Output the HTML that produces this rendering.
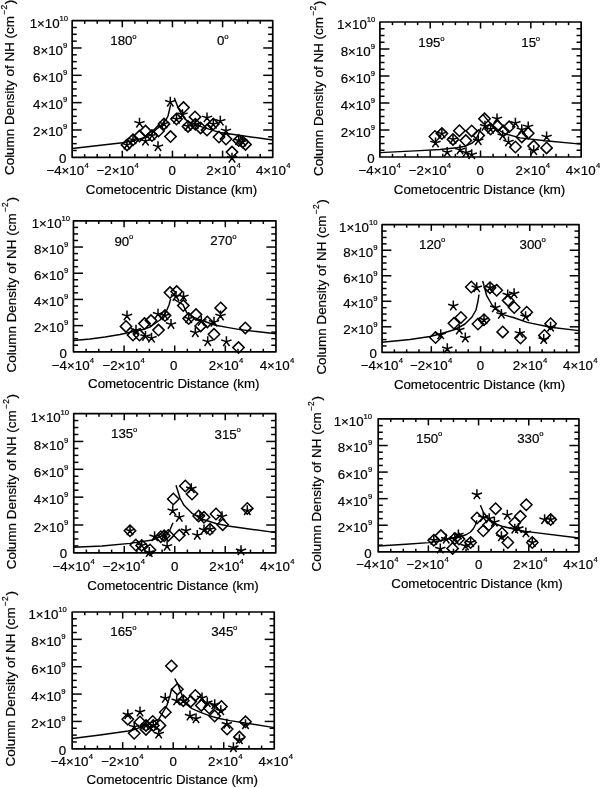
<!DOCTYPE html>
<html><head><meta charset="utf-8"><style>
html,body{margin:0;padding:0;background:#fff;width:600px;height:788px;overflow:hidden}
svg{display:block;filter:grayscale(1) blur(0.35px)}
text{font-family:"Liberation Sans",sans-serif;fill:#000;stroke:#000;stroke-width:0.2px}
</style></head><body>
<svg width="600" height="788" viewBox="0 0 600 788">
<rect width="600" height="788" fill="#fff"/>
<g stroke="#000" stroke-linecap="butt">
<rect x="72.15" y="20.65" width="200.60" height="136.65" fill="none" stroke-width="1.7" stroke-linejoin="round"/>
<line x1="84.69" y1="157.30" x2="84.69" y2="154.09" stroke-width="1.5"/>
<line x1="84.69" y1="20.65" x2="84.69" y2="23.86" stroke-width="1.5"/>
<line x1="97.23" y1="157.30" x2="97.23" y2="154.09" stroke-width="1.5"/>
<line x1="97.23" y1="20.65" x2="97.23" y2="23.86" stroke-width="1.5"/>
<line x1="109.76" y1="157.30" x2="109.76" y2="154.09" stroke-width="1.5"/>
<line x1="109.76" y1="20.65" x2="109.76" y2="23.86" stroke-width="1.5"/>
<line x1="122.30" y1="157.30" x2="122.30" y2="150.68" stroke-width="1.5"/>
<line x1="122.30" y1="20.65" x2="122.30" y2="27.27" stroke-width="1.5"/>
<line x1="134.84" y1="157.30" x2="134.84" y2="154.09" stroke-width="1.5"/>
<line x1="134.84" y1="20.65" x2="134.84" y2="23.86" stroke-width="1.5"/>
<line x1="147.38" y1="157.30" x2="147.38" y2="154.09" stroke-width="1.5"/>
<line x1="147.38" y1="20.65" x2="147.38" y2="23.86" stroke-width="1.5"/>
<line x1="159.91" y1="157.30" x2="159.91" y2="154.09" stroke-width="1.5"/>
<line x1="159.91" y1="20.65" x2="159.91" y2="23.86" stroke-width="1.5"/>
<line x1="172.45" y1="157.30" x2="172.45" y2="150.68" stroke-width="1.5"/>
<line x1="172.45" y1="20.65" x2="172.45" y2="27.27" stroke-width="1.5"/>
<line x1="184.99" y1="157.30" x2="184.99" y2="154.09" stroke-width="1.5"/>
<line x1="184.99" y1="20.65" x2="184.99" y2="23.86" stroke-width="1.5"/>
<line x1="197.53" y1="157.30" x2="197.53" y2="154.09" stroke-width="1.5"/>
<line x1="197.53" y1="20.65" x2="197.53" y2="23.86" stroke-width="1.5"/>
<line x1="210.06" y1="157.30" x2="210.06" y2="154.09" stroke-width="1.5"/>
<line x1="210.06" y1="20.65" x2="210.06" y2="23.86" stroke-width="1.5"/>
<line x1="222.60" y1="157.30" x2="222.60" y2="150.68" stroke-width="1.5"/>
<line x1="222.60" y1="20.65" x2="222.60" y2="27.27" stroke-width="1.5"/>
<line x1="235.14" y1="157.30" x2="235.14" y2="154.09" stroke-width="1.5"/>
<line x1="235.14" y1="20.65" x2="235.14" y2="23.86" stroke-width="1.5"/>
<line x1="247.68" y1="157.30" x2="247.68" y2="154.09" stroke-width="1.5"/>
<line x1="247.68" y1="20.65" x2="247.68" y2="23.86" stroke-width="1.5"/>
<line x1="260.21" y1="157.30" x2="260.21" y2="154.09" stroke-width="1.5"/>
<line x1="260.21" y1="20.65" x2="260.21" y2="23.86" stroke-width="1.5"/>
<line x1="72.15" y1="150.47" x2="76.75" y2="150.47" stroke-width="1.5"/>
<line x1="272.75" y1="150.47" x2="268.15" y2="150.47" stroke-width="1.5"/>
<line x1="72.15" y1="143.64" x2="76.75" y2="143.64" stroke-width="1.5"/>
<line x1="272.75" y1="143.64" x2="268.15" y2="143.64" stroke-width="1.5"/>
<line x1="72.15" y1="136.80" x2="76.75" y2="136.80" stroke-width="1.5"/>
<line x1="272.75" y1="136.80" x2="268.15" y2="136.80" stroke-width="1.5"/>
<line x1="72.15" y1="129.97" x2="81.65" y2="129.97" stroke-width="1.5"/>
<line x1="272.75" y1="129.97" x2="263.25" y2="129.97" stroke-width="1.5"/>
<line x1="72.15" y1="123.14" x2="76.75" y2="123.14" stroke-width="1.5"/>
<line x1="272.75" y1="123.14" x2="268.15" y2="123.14" stroke-width="1.5"/>
<line x1="72.15" y1="116.31" x2="76.75" y2="116.31" stroke-width="1.5"/>
<line x1="272.75" y1="116.31" x2="268.15" y2="116.31" stroke-width="1.5"/>
<line x1="72.15" y1="109.47" x2="76.75" y2="109.47" stroke-width="1.5"/>
<line x1="272.75" y1="109.47" x2="268.15" y2="109.47" stroke-width="1.5"/>
<line x1="72.15" y1="102.64" x2="81.65" y2="102.64" stroke-width="1.5"/>
<line x1="272.75" y1="102.64" x2="263.25" y2="102.64" stroke-width="1.5"/>
<line x1="72.15" y1="95.81" x2="76.75" y2="95.81" stroke-width="1.5"/>
<line x1="272.75" y1="95.81" x2="268.15" y2="95.81" stroke-width="1.5"/>
<line x1="72.15" y1="88.98" x2="76.75" y2="88.98" stroke-width="1.5"/>
<line x1="272.75" y1="88.98" x2="268.15" y2="88.98" stroke-width="1.5"/>
<line x1="72.15" y1="82.14" x2="76.75" y2="82.14" stroke-width="1.5"/>
<line x1="272.75" y1="82.14" x2="268.15" y2="82.14" stroke-width="1.5"/>
<line x1="72.15" y1="75.31" x2="81.65" y2="75.31" stroke-width="1.5"/>
<line x1="272.75" y1="75.31" x2="263.25" y2="75.31" stroke-width="1.5"/>
<line x1="72.15" y1="68.48" x2="76.75" y2="68.48" stroke-width="1.5"/>
<line x1="272.75" y1="68.48" x2="268.15" y2="68.48" stroke-width="1.5"/>
<line x1="72.15" y1="61.65" x2="76.75" y2="61.65" stroke-width="1.5"/>
<line x1="272.75" y1="61.65" x2="268.15" y2="61.65" stroke-width="1.5"/>
<line x1="72.15" y1="54.81" x2="76.75" y2="54.81" stroke-width="1.5"/>
<line x1="272.75" y1="54.81" x2="268.15" y2="54.81" stroke-width="1.5"/>
<line x1="72.15" y1="47.98" x2="81.65" y2="47.98" stroke-width="1.5"/>
<line x1="272.75" y1="47.98" x2="263.25" y2="47.98" stroke-width="1.5"/>
<line x1="72.15" y1="41.15" x2="76.75" y2="41.15" stroke-width="1.5"/>
<line x1="272.75" y1="41.15" x2="268.15" y2="41.15" stroke-width="1.5"/>
<line x1="72.15" y1="34.31" x2="76.75" y2="34.31" stroke-width="1.5"/>
<line x1="272.75" y1="34.31" x2="268.15" y2="34.31" stroke-width="1.5"/>
<line x1="72.15" y1="27.48" x2="76.75" y2="27.48" stroke-width="1.5"/>
<line x1="272.75" y1="27.48" x2="268.15" y2="27.48" stroke-width="1.5"/>
<text x="59.12" y="162.80" font-size="13.3">0</text>
<text x="33.01" y="136.42" font-size="13.3">2×10</text>
<text x="63.08" y="129.42" font-size="7.7">9</text>
<text x="33.01" y="109.19" font-size="13.3">4×10</text>
<text x="63.08" y="102.19" font-size="7.7">9</text>
<text x="33.01" y="81.96" font-size="13.3">6×10</text>
<text x="63.08" y="74.96" font-size="7.7">9</text>
<text x="33.01" y="54.73" font-size="13.3">8×10</text>
<text x="63.08" y="47.73" font-size="7.7">9</text>
<text x="29.63" y="27.50" font-size="13.3">1×10</text>
<text x="59.49" y="20.50" font-size="7.7">10</text>
<text x="46.43" y="175.20" font-size="13.3">−4×10</text>
<text x="84.46" y="168.20" font-size="7.7">4</text>
<text x="96.53" y="175.20" font-size="13.3">−2×10</text>
<text x="134.56" y="168.20" font-size="7.7">4</text>
<text x="168.45" y="175.20" font-size="13.3">0</text>
<text x="206.26" y="175.20" font-size="13.3">2×10</text>
<text x="236.52" y="168.20" font-size="7.7">4</text>
<text x="255.94" y="175.20" font-size="13.3">4×10</text>
<text x="286.20" y="168.20" font-size="7.7">4</text>
<text x="85.79" y="193.90" font-size="13.3">Cometocentric Distance (km)</text>
<g transform="translate(14.30,174.38) rotate(-90)">
<text x="-0.68" y="0" font-size="13.45">Column Density of NH (cm</text>
<text x="159.91" y="-7.2" font-size="8.4">−2</text>
<text x="170.19" y="0" font-size="13.45">)</text>
</g>
<text x="110.29" y="45.00" font-size="13.3">180</text>
<text x="132.23" y="38.70" font-size="7.7">o</text>
<text x="216.98" y="45.30" font-size="13.3">0</text>
<text x="224.13" y="39.00" font-size="7.7">o</text>
<polyline points="72.15,148.50 122.50,142.70 135.00,140.20 147.00,137.00 151.00,134.50 155.00,130.50 161.00,125.50 166.00,119.80 168.00,116.00 170.70,104.50" fill="none" stroke-width="1.45" stroke-linejoin="round"/>
<polyline points="174.30,97.80 178.00,107.40 181.70,114.60 184.50,118.60 188.30,121.60 202.50,127.10 213.75,130.60 220.00,132.50 272.75,140.00" fill="none" stroke-width="1.45" stroke-linejoin="round"/>
<path d="M139.50,130.40L145.20,136.10L139.50,141.80L133.80,136.10Z" stroke-width="1.5" fill="none" stroke-linejoin="miter"/>
<path d="M145.50,125.40L151.20,131.10L145.50,136.80L139.80,131.10Z" stroke-width="1.5" fill="none" stroke-linejoin="miter"/>
<path d="M158.50,125.40L164.20,131.10L158.50,136.80L152.80,131.10Z" stroke-width="1.5" fill="none" stroke-linejoin="miter"/>
<path d="M170.50,130.90L176.20,136.60L170.50,142.30L164.80,136.60Z" stroke-width="1.5" fill="none" stroke-linejoin="miter"/>
<path d="M183.50,101.90L189.20,107.60L183.50,113.30L177.80,107.60Z" stroke-width="1.5" fill="none" stroke-linejoin="miter"/>
<path d="M195.00,111.20L200.70,116.90L195.00,122.60L189.30,116.90Z" stroke-width="1.5" fill="none" stroke-linejoin="miter"/>
<path d="M200.60,122.20L206.30,127.90L200.60,133.60L194.90,127.90Z" stroke-width="1.5" fill="none" stroke-linejoin="miter"/>
<path d="M207.00,124.40L212.70,130.10L207.00,135.80L201.30,130.10Z" stroke-width="1.5" fill="none" stroke-linejoin="miter"/>
<path d="M219.00,131.40L224.70,137.10L219.00,142.80L213.30,137.10Z" stroke-width="1.5" fill="none" stroke-linejoin="miter"/>
<path d="M226.00,133.40L231.70,139.10L226.00,144.80L220.30,139.10Z" stroke-width="1.5" fill="none" stroke-linejoin="miter"/>
<path d="M232.00,146.40L237.70,152.10L232.00,157.80L226.30,152.10Z" stroke-width="1.5" fill="none" stroke-linejoin="miter"/>
<path d="M245.50,138.70L251.20,144.40L245.50,150.10L239.80,144.40Z" stroke-width="1.5" fill="none" stroke-linejoin="miter"/>
<path d="M139.50,123.10L139.50,117.70M139.50,123.10L134.36,121.43M139.50,123.10L136.33,127.47M139.50,123.10L142.67,127.47M139.50,123.10L144.64,121.43" stroke-width="1.5" fill="none"/>
<path d="M145.50,141.10L145.50,135.70M145.50,141.10L140.36,139.43M145.50,141.10L142.33,145.47M145.50,141.10L148.67,145.47M145.50,141.10L150.64,139.43" stroke-width="1.5" fill="none"/>
<path d="M158.00,146.60L158.00,141.20M158.00,146.60L152.86,144.93M158.00,146.60L154.83,150.97M158.00,146.60L161.17,150.97M158.00,146.60L163.14,144.93" stroke-width="1.5" fill="none"/>
<path d="M170.30,102.10L170.30,96.70M170.30,102.10L165.16,100.43M170.30,102.10L167.13,106.47M170.30,102.10L173.47,106.47M170.30,102.10L175.44,100.43" stroke-width="1.5" fill="none"/>
<path d="M182.50,114.60L182.50,109.20M182.50,114.60L177.36,112.93M182.50,114.60L179.33,118.97M182.50,114.60L185.67,118.97M182.50,114.60L187.64,112.93" stroke-width="1.5" fill="none"/>
<path d="M207.00,117.80L207.00,112.40M207.00,117.80L201.86,116.13M207.00,117.80L203.83,122.17M207.00,117.80L210.17,122.17M207.00,117.80L212.14,116.13" stroke-width="1.5" fill="none"/>
<path d="M220.30,121.10L220.30,115.70M220.30,121.10L215.16,119.43M220.30,121.10L217.13,125.47M220.30,121.10L223.47,125.47M220.30,121.10L225.44,119.43" stroke-width="1.5" fill="none"/>
<path d="M226.00,130.80L226.00,125.40M226.00,130.80L220.86,129.13M226.00,130.80L222.83,135.17M226.00,130.80L229.17,135.17M226.00,130.80L231.14,129.13" stroke-width="1.5" fill="none"/>
<path d="M232.00,158.10L232.00,152.70M232.00,158.10L226.86,156.43M232.00,158.10L228.83,162.47M232.00,158.10L235.17,162.47M232.00,158.10L237.14,156.43" stroke-width="1.5" fill="none"/>
<path d="M127.00,139.20L132.70,144.90L127.00,150.60L121.30,144.90Z" stroke-width="1.5" fill="none" stroke-linejoin="miter"/>
<path d="M127.00,144.90L127.00,139.50M127.00,144.90L121.86,143.23M127.00,144.90L123.83,149.27M127.00,144.90L130.17,149.27M127.00,144.90L132.14,143.23" stroke-width="1.5" fill="none"/>
<path d="M133.00,134.10L138.70,139.80L133.00,145.50L127.30,139.80Z" stroke-width="1.5" fill="none" stroke-linejoin="miter"/>
<path d="M133.00,139.80L133.00,134.40M133.00,139.80L127.86,138.13M133.00,139.80L129.83,144.17M133.00,139.80L136.17,144.17M133.00,139.80L138.14,138.13" stroke-width="1.5" fill="none"/>
<path d="M152.00,129.90L157.70,135.60L152.00,141.30L146.30,135.60Z" stroke-width="1.5" fill="none" stroke-linejoin="miter"/>
<path d="M152.00,135.60L152.00,130.20M152.00,135.60L146.86,133.93M152.00,135.60L148.83,139.97M152.00,135.60L155.17,139.97M152.00,135.60L157.14,133.93" stroke-width="1.5" fill="none"/>
<path d="M164.00,118.20L169.70,123.90L164.00,129.60L158.30,123.90Z" stroke-width="1.5" fill="none" stroke-linejoin="miter"/>
<path d="M164.00,123.90L164.00,118.50M164.00,123.90L158.86,122.23M164.00,123.90L160.83,128.27M164.00,123.90L167.17,128.27M164.00,123.90L169.14,122.23" stroke-width="1.5" fill="none"/>
<path d="M176.50,113.40L182.20,119.10L176.50,124.80L170.80,119.10Z" stroke-width="1.5" fill="none" stroke-linejoin="miter"/>
<path d="M176.50,119.10L176.50,113.70M176.50,119.10L171.36,117.43M176.50,119.10L173.33,123.47M176.50,119.10L179.67,123.47M176.50,119.10L181.64,117.43" stroke-width="1.5" fill="none"/>
<path d="M188.00,120.70L193.70,126.40L188.00,132.10L182.30,126.40Z" stroke-width="1.5" fill="none" stroke-linejoin="miter"/>
<path d="M188.00,126.40L188.00,121.00M188.00,126.40L182.86,124.73M188.00,126.40L184.83,130.77M188.00,126.40L191.17,130.77M188.00,126.40L193.14,124.73" stroke-width="1.5" fill="none"/>
<path d="M195.30,118.60L201.00,124.30L195.30,130.00L189.60,124.30Z" stroke-width="1.5" fill="none" stroke-linejoin="miter"/>
<path d="M195.30,124.30L195.30,118.90M195.30,124.30L190.16,122.63M195.30,124.30L192.13,128.67M195.30,124.30L198.47,128.67M195.30,124.30L200.44,122.63" stroke-width="1.5" fill="none"/>
<path d="M213.30,118.40L219.00,124.10L213.30,129.80L207.60,124.10Z" stroke-width="1.5" fill="none" stroke-linejoin="miter"/>
<path d="M213.30,124.10L213.30,118.70M213.30,124.10L208.16,122.43M213.30,124.10L210.13,128.47M213.30,124.10L216.47,128.47M213.30,124.10L218.44,122.43" stroke-width="1.5" fill="none"/>
<path d="M238.70,134.90L244.40,140.60L238.70,146.30L233.00,140.60Z" stroke-width="1.5" fill="none" stroke-linejoin="miter"/>
<path d="M238.70,140.60L238.70,135.20M238.70,140.60L233.56,138.93M238.70,140.60L235.53,144.97M238.70,140.60L241.87,144.97M238.70,140.60L243.84,138.93" stroke-width="1.5" fill="none"/>
<path d="M242.70,136.20L248.40,141.90L242.70,147.60L237.00,141.90Z" stroke-width="1.5" fill="none" stroke-linejoin="miter"/>
<path d="M242.70,141.90L242.70,136.50M242.70,141.90L237.56,140.23M242.70,141.90L239.53,146.27M242.70,141.90L245.87,146.27M242.70,141.90L247.84,140.23" stroke-width="1.5" fill="none"/>
<rect x="379.90" y="22.00" width="201.25" height="135.00" fill="none" stroke-width="1.7" stroke-linejoin="round"/>
<line x1="392.48" y1="157.00" x2="392.48" y2="153.83" stroke-width="1.5"/>
<line x1="392.48" y1="22.00" x2="392.48" y2="25.17" stroke-width="1.5"/>
<line x1="405.06" y1="157.00" x2="405.06" y2="153.83" stroke-width="1.5"/>
<line x1="405.06" y1="22.00" x2="405.06" y2="25.17" stroke-width="1.5"/>
<line x1="417.63" y1="157.00" x2="417.63" y2="153.83" stroke-width="1.5"/>
<line x1="417.63" y1="22.00" x2="417.63" y2="25.17" stroke-width="1.5"/>
<line x1="430.21" y1="157.00" x2="430.21" y2="150.46" stroke-width="1.5"/>
<line x1="430.21" y1="22.00" x2="430.21" y2="28.54" stroke-width="1.5"/>
<line x1="442.79" y1="157.00" x2="442.79" y2="153.83" stroke-width="1.5"/>
<line x1="442.79" y1="22.00" x2="442.79" y2="25.17" stroke-width="1.5"/>
<line x1="455.37" y1="157.00" x2="455.37" y2="153.83" stroke-width="1.5"/>
<line x1="455.37" y1="22.00" x2="455.37" y2="25.17" stroke-width="1.5"/>
<line x1="467.95" y1="157.00" x2="467.95" y2="153.83" stroke-width="1.5"/>
<line x1="467.95" y1="22.00" x2="467.95" y2="25.17" stroke-width="1.5"/>
<line x1="480.52" y1="157.00" x2="480.52" y2="150.46" stroke-width="1.5"/>
<line x1="480.52" y1="22.00" x2="480.52" y2="28.54" stroke-width="1.5"/>
<line x1="493.10" y1="157.00" x2="493.10" y2="153.83" stroke-width="1.5"/>
<line x1="493.10" y1="22.00" x2="493.10" y2="25.17" stroke-width="1.5"/>
<line x1="505.68" y1="157.00" x2="505.68" y2="153.83" stroke-width="1.5"/>
<line x1="505.68" y1="22.00" x2="505.68" y2="25.17" stroke-width="1.5"/>
<line x1="518.26" y1="157.00" x2="518.26" y2="153.83" stroke-width="1.5"/>
<line x1="518.26" y1="22.00" x2="518.26" y2="25.17" stroke-width="1.5"/>
<line x1="530.84" y1="157.00" x2="530.84" y2="150.46" stroke-width="1.5"/>
<line x1="530.84" y1="22.00" x2="530.84" y2="28.54" stroke-width="1.5"/>
<line x1="543.42" y1="157.00" x2="543.42" y2="153.83" stroke-width="1.5"/>
<line x1="543.42" y1="22.00" x2="543.42" y2="25.17" stroke-width="1.5"/>
<line x1="555.99" y1="157.00" x2="555.99" y2="153.83" stroke-width="1.5"/>
<line x1="555.99" y1="22.00" x2="555.99" y2="25.17" stroke-width="1.5"/>
<line x1="568.57" y1="157.00" x2="568.57" y2="153.83" stroke-width="1.5"/>
<line x1="568.57" y1="22.00" x2="568.57" y2="25.17" stroke-width="1.5"/>
<line x1="379.90" y1="150.25" x2="384.51" y2="150.25" stroke-width="1.5"/>
<line x1="581.15" y1="150.25" x2="576.54" y2="150.25" stroke-width="1.5"/>
<line x1="379.90" y1="143.50" x2="384.51" y2="143.50" stroke-width="1.5"/>
<line x1="581.15" y1="143.50" x2="576.54" y2="143.50" stroke-width="1.5"/>
<line x1="379.90" y1="136.75" x2="384.51" y2="136.75" stroke-width="1.5"/>
<line x1="581.15" y1="136.75" x2="576.54" y2="136.75" stroke-width="1.5"/>
<line x1="379.90" y1="130.00" x2="389.43" y2="130.00" stroke-width="1.5"/>
<line x1="581.15" y1="130.00" x2="571.62" y2="130.00" stroke-width="1.5"/>
<line x1="379.90" y1="123.25" x2="384.51" y2="123.25" stroke-width="1.5"/>
<line x1="581.15" y1="123.25" x2="576.54" y2="123.25" stroke-width="1.5"/>
<line x1="379.90" y1="116.50" x2="384.51" y2="116.50" stroke-width="1.5"/>
<line x1="581.15" y1="116.50" x2="576.54" y2="116.50" stroke-width="1.5"/>
<line x1="379.90" y1="109.75" x2="384.51" y2="109.75" stroke-width="1.5"/>
<line x1="581.15" y1="109.75" x2="576.54" y2="109.75" stroke-width="1.5"/>
<line x1="379.90" y1="103.00" x2="389.43" y2="103.00" stroke-width="1.5"/>
<line x1="581.15" y1="103.00" x2="571.62" y2="103.00" stroke-width="1.5"/>
<line x1="379.90" y1="96.25" x2="384.51" y2="96.25" stroke-width="1.5"/>
<line x1="581.15" y1="96.25" x2="576.54" y2="96.25" stroke-width="1.5"/>
<line x1="379.90" y1="89.50" x2="384.51" y2="89.50" stroke-width="1.5"/>
<line x1="581.15" y1="89.50" x2="576.54" y2="89.50" stroke-width="1.5"/>
<line x1="379.90" y1="82.75" x2="384.51" y2="82.75" stroke-width="1.5"/>
<line x1="581.15" y1="82.75" x2="576.54" y2="82.75" stroke-width="1.5"/>
<line x1="379.90" y1="76.00" x2="389.43" y2="76.00" stroke-width="1.5"/>
<line x1="581.15" y1="76.00" x2="571.62" y2="76.00" stroke-width="1.5"/>
<line x1="379.90" y1="69.25" x2="384.51" y2="69.25" stroke-width="1.5"/>
<line x1="581.15" y1="69.25" x2="576.54" y2="69.25" stroke-width="1.5"/>
<line x1="379.90" y1="62.50" x2="384.51" y2="62.50" stroke-width="1.5"/>
<line x1="581.15" y1="62.50" x2="576.54" y2="62.50" stroke-width="1.5"/>
<line x1="379.90" y1="55.75" x2="384.51" y2="55.75" stroke-width="1.5"/>
<line x1="581.15" y1="55.75" x2="576.54" y2="55.75" stroke-width="1.5"/>
<line x1="379.90" y1="49.00" x2="389.43" y2="49.00" stroke-width="1.5"/>
<line x1="581.15" y1="49.00" x2="571.62" y2="49.00" stroke-width="1.5"/>
<line x1="379.90" y1="42.25" x2="384.51" y2="42.25" stroke-width="1.5"/>
<line x1="581.15" y1="42.25" x2="576.54" y2="42.25" stroke-width="1.5"/>
<line x1="379.90" y1="35.50" x2="384.51" y2="35.50" stroke-width="1.5"/>
<line x1="581.15" y1="35.50" x2="576.54" y2="35.50" stroke-width="1.5"/>
<line x1="379.90" y1="28.75" x2="384.51" y2="28.75" stroke-width="1.5"/>
<line x1="581.15" y1="28.75" x2="576.54" y2="28.75" stroke-width="1.5"/>
<text x="367.32" y="163.00" font-size="13.3">0</text>
<text x="340.71" y="136.85" font-size="13.3">2×10</text>
<text x="370.78" y="129.85" font-size="7.7">9</text>
<text x="340.71" y="109.85" font-size="13.3">4×10</text>
<text x="370.78" y="102.85" font-size="7.7">9</text>
<text x="340.71" y="82.85" font-size="13.3">6×10</text>
<text x="370.78" y="75.85" font-size="7.7">9</text>
<text x="340.71" y="55.85" font-size="13.3">8×10</text>
<text x="370.78" y="48.85" font-size="7.7">9</text>
<text x="336.88" y="28.85" font-size="13.3">1×10</text>
<text x="366.74" y="21.85" font-size="7.7">10</text>
<text x="358.53" y="175.40" font-size="13.3">−4×10</text>
<text x="396.56" y="168.40" font-size="7.7">4</text>
<text x="408.84" y="175.40" font-size="13.3">−2×10</text>
<text x="446.87" y="168.40" font-size="7.7">4</text>
<text x="476.48" y="175.40" font-size="13.3">0</text>
<text x="515.59" y="175.40" font-size="13.3">2×10</text>
<text x="545.86" y="168.40" font-size="7.7">4</text>
<text x="565.69" y="175.40" font-size="13.3">4×10</text>
<text x="595.95" y="168.40" font-size="7.7">4</text>
<text x="393.87" y="193.60" font-size="13.3">Cometocentric Distance (km)</text>
<g transform="translate(323.25,175.40) rotate(-90)">
<text x="-0.68" y="0" font-size="13.45">Column Density of NH (cm</text>
<text x="159.91" y="-7.2" font-size="8.4">−2</text>
<text x="170.19" y="0" font-size="13.45">)</text>
</g>
<text x="418.24" y="47.00" font-size="13.3">195</text>
<text x="440.15" y="40.70" font-size="7.7">o</text>
<text x="521.24" y="47.00" font-size="13.3">15</text>
<text x="535.75" y="40.70" font-size="7.7">o</text>
<polyline points="379.90,152.60 420.00,150.60 440.00,149.50 456.70,147.80 465.00,146.20 471.70,143.40 475.80,139.70 478.50,134.00 481.00,127.60" fill="none" stroke-width="1.45" stroke-linejoin="round"/>
<polyline points="483.00,114.60 490.00,123.00 497.00,129.00 505.00,133.80 520.00,137.90 545.00,140.80 581.15,144.10" fill="none" stroke-width="1.45" stroke-linejoin="round"/>
<path d="M434.90,130.80L440.60,136.50L434.90,142.20L429.20,136.50Z" stroke-width="1.5" fill="none" stroke-linejoin="miter"/>
<path d="M459.40,125.00L465.10,130.70L459.40,136.40L453.70,130.70Z" stroke-width="1.5" fill="none" stroke-linejoin="miter"/>
<path d="M471.70,125.20L477.40,130.90L471.70,136.60L466.00,130.90Z" stroke-width="1.5" fill="none" stroke-linejoin="miter"/>
<path d="M465.80,134.90L471.50,140.60L465.80,146.30L460.10,140.60Z" stroke-width="1.5" fill="none" stroke-linejoin="miter"/>
<path d="M478.70,129.90L484.40,135.60L478.70,141.30L473.00,135.60Z" stroke-width="1.5" fill="none" stroke-linejoin="miter"/>
<path d="M484.50,113.10L490.20,118.80L484.50,124.50L478.80,118.80Z" stroke-width="1.5" fill="none" stroke-linejoin="miter"/>
<path d="M497.50,120.40L503.20,126.10L497.50,131.80L491.80,126.10Z" stroke-width="1.5" fill="none" stroke-linejoin="miter"/>
<path d="M503.30,125.40L509.00,131.10L503.30,136.80L497.60,131.10Z" stroke-width="1.5" fill="none" stroke-linejoin="miter"/>
<path d="M509.10,121.10L514.80,126.80L509.10,132.50L503.40,126.80Z" stroke-width="1.5" fill="none" stroke-linejoin="miter"/>
<path d="M515.40,141.30L521.10,147.00L515.40,152.70L509.70,147.00Z" stroke-width="1.5" fill="none" stroke-linejoin="miter"/>
<path d="M521.80,131.20L527.50,136.90L521.80,142.60L516.10,136.90Z" stroke-width="1.5" fill="none" stroke-linejoin="miter"/>
<path d="M528.20,127.50L533.90,133.20L528.20,138.90L522.50,133.20Z" stroke-width="1.5" fill="none" stroke-linejoin="miter"/>
<path d="M533.70,140.40L539.40,146.10L533.70,151.80L528.00,146.10Z" stroke-width="1.5" fill="none" stroke-linejoin="miter"/>
<path d="M546.60,142.20L552.30,147.90L546.60,153.60L540.90,147.90Z" stroke-width="1.5" fill="none" stroke-linejoin="miter"/>
<path d="M435.50,142.90L435.50,137.50M435.50,142.90L430.36,141.23M435.50,142.90L432.33,147.27M435.50,142.90L438.67,147.27M435.50,142.90L440.64,141.23" stroke-width="1.5" fill="none"/>
<path d="M447.20,152.30L447.20,146.90M447.20,152.30L442.06,150.63M447.20,152.30L444.03,156.67M447.20,152.30L450.37,156.67M447.20,152.30L452.34,150.63" stroke-width="1.5" fill="none"/>
<path d="M460.00,149.90L460.00,144.50M460.00,149.90L454.86,148.23M460.00,149.90L456.83,154.27M460.00,149.90L463.17,154.27M460.00,149.90L465.14,148.23" stroke-width="1.5" fill="none"/>
<path d="M466.00,152.60L466.00,147.20M466.00,152.60L460.86,150.93M466.00,152.60L462.83,156.97M466.00,152.60L469.17,156.97M466.00,152.60L471.14,150.93" stroke-width="1.5" fill="none"/>
<path d="M471.70,154.60L471.70,149.20M471.70,154.60L466.56,152.93M471.70,154.60L468.53,158.97M471.70,154.60L474.87,158.97M471.70,154.60L476.84,152.93" stroke-width="1.5" fill="none"/>
<path d="M478.20,140.60L478.20,135.20M478.20,140.60L473.06,138.93M478.20,140.60L475.03,144.97M478.20,140.60L481.37,144.97M478.20,140.60L483.34,138.93" stroke-width="1.5" fill="none"/>
<path d="M485.00,126.20L485.00,120.80M485.00,126.20L479.86,124.53M485.00,126.20L481.83,130.57M485.00,126.20L488.17,130.57M485.00,126.20L490.14,124.53" stroke-width="1.5" fill="none"/>
<path d="M497.00,118.80L497.00,113.40M497.00,118.80L491.86,117.13M497.00,118.80L493.83,123.17M497.00,118.80L500.17,123.17M497.00,118.80L502.14,117.13" stroke-width="1.5" fill="none"/>
<path d="M502.70,135.60L502.70,130.20M502.70,135.60L497.56,133.93M502.70,135.60L499.53,139.97M502.70,135.60L505.87,139.97M502.70,135.60L507.84,133.93" stroke-width="1.5" fill="none"/>
<path d="M508.50,141.90L508.50,136.50M508.50,141.90L503.36,140.23M508.50,141.90L505.33,146.27M508.50,141.90L511.67,146.27M508.50,141.90L513.64,140.23" stroke-width="1.5" fill="none"/>
<path d="M515.40,123.10L515.40,117.70M515.40,123.10L510.26,121.43M515.40,123.10L512.23,127.47M515.40,123.10L518.57,127.47M515.40,123.10L520.54,121.43" stroke-width="1.5" fill="none"/>
<path d="M521.80,129.60L521.80,124.20M521.80,129.60L516.66,127.93M521.80,129.60L518.63,133.97M521.80,129.60L524.97,133.97M521.80,129.60L526.94,127.93" stroke-width="1.5" fill="none"/>
<path d="M528.20,126.80L528.20,121.40M528.20,126.80L523.06,125.13M528.20,126.80L525.03,131.17M528.20,126.80L531.37,131.17M528.20,126.80L533.34,125.13" stroke-width="1.5" fill="none"/>
<path d="M533.70,150.60L533.70,145.20M533.70,150.60L528.56,148.93M533.70,150.60L530.53,154.97M533.70,150.60L536.87,154.97M533.70,150.60L538.84,148.93" stroke-width="1.5" fill="none"/>
<path d="M546.60,136.90L546.60,131.50M546.60,136.90L541.46,135.23M546.60,136.90L543.43,141.27M546.60,136.90L549.77,141.27M546.60,136.90L551.74,135.23" stroke-width="1.5" fill="none"/>
<path d="M441.90,127.90L447.60,133.60L441.90,139.30L436.20,133.60Z" stroke-width="1.5" fill="none" stroke-linejoin="miter"/>
<path d="M441.90,133.60L441.90,128.20M441.90,133.60L436.76,131.93M441.90,133.60L438.73,137.97M441.90,133.60L445.07,137.97M441.90,133.60L447.04,131.93" stroke-width="1.5" fill="none"/>
<path d="M453.00,133.70L458.70,139.40L453.00,145.10L447.30,139.40Z" stroke-width="1.5" fill="none" stroke-linejoin="miter"/>
<path d="M453.00,139.40L453.00,134.00M453.00,139.40L447.86,137.73M453.00,139.40L449.83,143.77M453.00,139.40L456.17,143.77M453.00,139.40L458.14,137.73" stroke-width="1.5" fill="none"/>
<path d="M490.60,123.40L496.30,129.10L490.60,134.80L484.90,129.10Z" stroke-width="1.5" fill="none" stroke-linejoin="miter"/>
<path d="M490.60,129.10L490.60,123.70M490.60,129.10L485.46,127.43M490.60,129.10L487.43,133.47M490.60,129.10L493.77,133.47M490.60,129.10L495.74,127.43" stroke-width="1.5" fill="none"/>
<rect x="73.45" y="220.85" width="202.50" height="130.95" fill="none" stroke-width="1.7" stroke-linejoin="round"/>
<line x1="86.11" y1="351.80" x2="86.11" y2="348.72" stroke-width="1.5"/>
<line x1="86.11" y1="220.85" x2="86.11" y2="223.93" stroke-width="1.5"/>
<line x1="98.76" y1="351.80" x2="98.76" y2="348.72" stroke-width="1.5"/>
<line x1="98.76" y1="220.85" x2="98.76" y2="223.93" stroke-width="1.5"/>
<line x1="111.42" y1="351.80" x2="111.42" y2="348.72" stroke-width="1.5"/>
<line x1="111.42" y1="220.85" x2="111.42" y2="223.93" stroke-width="1.5"/>
<line x1="124.08" y1="351.80" x2="124.08" y2="345.45" stroke-width="1.5"/>
<line x1="124.08" y1="220.85" x2="124.08" y2="227.20" stroke-width="1.5"/>
<line x1="136.73" y1="351.80" x2="136.73" y2="348.72" stroke-width="1.5"/>
<line x1="136.73" y1="220.85" x2="136.73" y2="223.93" stroke-width="1.5"/>
<line x1="149.39" y1="351.80" x2="149.39" y2="348.72" stroke-width="1.5"/>
<line x1="149.39" y1="220.85" x2="149.39" y2="223.93" stroke-width="1.5"/>
<line x1="162.04" y1="351.80" x2="162.04" y2="348.72" stroke-width="1.5"/>
<line x1="162.04" y1="220.85" x2="162.04" y2="223.93" stroke-width="1.5"/>
<line x1="174.70" y1="351.80" x2="174.70" y2="345.45" stroke-width="1.5"/>
<line x1="174.70" y1="220.85" x2="174.70" y2="227.20" stroke-width="1.5"/>
<line x1="187.36" y1="351.80" x2="187.36" y2="348.72" stroke-width="1.5"/>
<line x1="187.36" y1="220.85" x2="187.36" y2="223.93" stroke-width="1.5"/>
<line x1="200.01" y1="351.80" x2="200.01" y2="348.72" stroke-width="1.5"/>
<line x1="200.01" y1="220.85" x2="200.01" y2="223.93" stroke-width="1.5"/>
<line x1="212.67" y1="351.80" x2="212.67" y2="348.72" stroke-width="1.5"/>
<line x1="212.67" y1="220.85" x2="212.67" y2="223.93" stroke-width="1.5"/>
<line x1="225.32" y1="351.80" x2="225.32" y2="345.45" stroke-width="1.5"/>
<line x1="225.32" y1="220.85" x2="225.32" y2="227.20" stroke-width="1.5"/>
<line x1="237.98" y1="351.80" x2="237.98" y2="348.72" stroke-width="1.5"/>
<line x1="237.98" y1="220.85" x2="237.98" y2="223.93" stroke-width="1.5"/>
<line x1="250.64" y1="351.80" x2="250.64" y2="348.72" stroke-width="1.5"/>
<line x1="250.64" y1="220.85" x2="250.64" y2="223.93" stroke-width="1.5"/>
<line x1="263.29" y1="351.80" x2="263.29" y2="348.72" stroke-width="1.5"/>
<line x1="263.29" y1="220.85" x2="263.29" y2="223.93" stroke-width="1.5"/>
<line x1="73.45" y1="345.25" x2="78.09" y2="345.25" stroke-width="1.5"/>
<line x1="275.95" y1="345.25" x2="271.31" y2="345.25" stroke-width="1.5"/>
<line x1="73.45" y1="338.70" x2="78.09" y2="338.70" stroke-width="1.5"/>
<line x1="275.95" y1="338.70" x2="271.31" y2="338.70" stroke-width="1.5"/>
<line x1="73.45" y1="332.16" x2="78.09" y2="332.16" stroke-width="1.5"/>
<line x1="275.95" y1="332.16" x2="271.31" y2="332.16" stroke-width="1.5"/>
<line x1="73.45" y1="325.61" x2="83.04" y2="325.61" stroke-width="1.5"/>
<line x1="275.95" y1="325.61" x2="266.36" y2="325.61" stroke-width="1.5"/>
<line x1="73.45" y1="319.06" x2="78.09" y2="319.06" stroke-width="1.5"/>
<line x1="275.95" y1="319.06" x2="271.31" y2="319.06" stroke-width="1.5"/>
<line x1="73.45" y1="312.51" x2="78.09" y2="312.51" stroke-width="1.5"/>
<line x1="275.95" y1="312.51" x2="271.31" y2="312.51" stroke-width="1.5"/>
<line x1="73.45" y1="305.97" x2="78.09" y2="305.97" stroke-width="1.5"/>
<line x1="275.95" y1="305.97" x2="271.31" y2="305.97" stroke-width="1.5"/>
<line x1="73.45" y1="299.42" x2="83.04" y2="299.42" stroke-width="1.5"/>
<line x1="275.95" y1="299.42" x2="266.36" y2="299.42" stroke-width="1.5"/>
<line x1="73.45" y1="292.87" x2="78.09" y2="292.87" stroke-width="1.5"/>
<line x1="275.95" y1="292.87" x2="271.31" y2="292.87" stroke-width="1.5"/>
<line x1="73.45" y1="286.32" x2="78.09" y2="286.32" stroke-width="1.5"/>
<line x1="275.95" y1="286.32" x2="271.31" y2="286.32" stroke-width="1.5"/>
<line x1="73.45" y1="279.78" x2="78.09" y2="279.78" stroke-width="1.5"/>
<line x1="275.95" y1="279.78" x2="271.31" y2="279.78" stroke-width="1.5"/>
<line x1="73.45" y1="273.23" x2="83.04" y2="273.23" stroke-width="1.5"/>
<line x1="275.95" y1="273.23" x2="266.36" y2="273.23" stroke-width="1.5"/>
<line x1="73.45" y1="266.68" x2="78.09" y2="266.68" stroke-width="1.5"/>
<line x1="275.95" y1="266.68" x2="271.31" y2="266.68" stroke-width="1.5"/>
<line x1="73.45" y1="260.13" x2="78.09" y2="260.13" stroke-width="1.5"/>
<line x1="275.95" y1="260.13" x2="271.31" y2="260.13" stroke-width="1.5"/>
<line x1="73.45" y1="253.59" x2="78.09" y2="253.59" stroke-width="1.5"/>
<line x1="275.95" y1="253.59" x2="271.31" y2="253.59" stroke-width="1.5"/>
<line x1="73.45" y1="247.04" x2="83.04" y2="247.04" stroke-width="1.5"/>
<line x1="275.95" y1="247.04" x2="266.36" y2="247.04" stroke-width="1.5"/>
<line x1="73.45" y1="240.49" x2="78.09" y2="240.49" stroke-width="1.5"/>
<line x1="275.95" y1="240.49" x2="271.31" y2="240.49" stroke-width="1.5"/>
<line x1="73.45" y1="233.94" x2="78.09" y2="233.94" stroke-width="1.5"/>
<line x1="275.95" y1="233.94" x2="271.31" y2="233.94" stroke-width="1.5"/>
<line x1="73.45" y1="227.40" x2="78.09" y2="227.40" stroke-width="1.5"/>
<line x1="275.95" y1="227.40" x2="271.31" y2="227.40" stroke-width="1.5"/>
<text x="59.52" y="357.80" font-size="13.3">0</text>
<text x="33.91" y="332.46" font-size="13.3">2×10</text>
<text x="63.98" y="325.46" font-size="7.7">9</text>
<text x="33.91" y="306.27" font-size="13.3">4×10</text>
<text x="63.98" y="299.27" font-size="7.7">9</text>
<text x="33.91" y="280.08" font-size="13.3">6×10</text>
<text x="63.98" y="273.08" font-size="7.7">9</text>
<text x="33.91" y="253.89" font-size="13.3">8×10</text>
<text x="63.98" y="246.89" font-size="7.7">9</text>
<text x="31.68" y="227.70" font-size="13.3">1×10</text>
<text x="61.54" y="220.70" font-size="7.7">10</text>
<text x="51.83" y="370.20" font-size="13.3">−4×10</text>
<text x="89.86" y="363.20" font-size="7.7">4</text>
<text x="102.40" y="370.20" font-size="13.3">−2×10</text>
<text x="140.43" y="363.20" font-size="7.7">4</text>
<text x="170.10" y="370.20" font-size="13.3">0</text>
<text x="208.63" y="370.20" font-size="13.3">2×10</text>
<text x="238.89" y="363.20" font-size="7.7">4</text>
<text x="259.64" y="370.20" font-size="13.3">4×10</text>
<text x="289.90" y="363.20" font-size="7.7">4</text>
<text x="88.04" y="388.40" font-size="13.3">Cometocentric Distance (km)</text>
<g transform="translate(15.60,371.73) rotate(-90)">
<text x="-0.68" y="0" font-size="13.45">Column Density of NH (cm</text>
<text x="159.91" y="-7.2" font-size="8.4">−2</text>
<text x="170.19" y="0" font-size="13.45">)</text>
</g>
<text x="114.38" y="245.50" font-size="13.3">90</text>
<text x="128.93" y="239.20" font-size="7.7">o</text>
<text x="210.33" y="245.40" font-size="13.3">270</text>
<text x="232.28" y="239.10" font-size="7.7">o</text>
<polyline points="73.65,340.50 90.00,339.00 105.00,337.00 120.00,334.50 128.00,332.80 143.00,329.50 150.00,327.00 160.00,320.00 166.00,312.00 169.00,305.00 170.70,298.70" fill="none" stroke-width="1.45" stroke-linejoin="round"/>
<polyline points="173.80,299.10 183.00,304.60 186.70,312.60 192.00,316.60 202.70,320.80 215.50,325.20 230.00,327.90 240.00,329.60 275.95,333.80" fill="none" stroke-width="1.45" stroke-linejoin="round"/>
<path d="M126.00,320.70L131.70,326.40L126.00,332.10L120.30,326.40Z" stroke-width="1.5" fill="none" stroke-linejoin="miter"/>
<path d="M133.00,329.40L138.70,335.10L133.00,340.80L127.30,335.10Z" stroke-width="1.5" fill="none" stroke-linejoin="miter"/>
<path d="M139.50,329.40L145.20,335.10L139.50,340.80L133.80,335.10Z" stroke-width="1.5" fill="none" stroke-linejoin="miter"/>
<path d="M144.50,317.90L150.20,323.60L144.50,329.30L138.80,323.60Z" stroke-width="1.5" fill="none" stroke-linejoin="miter"/>
<path d="M151.00,314.90L156.70,320.60L151.00,326.30L145.30,320.60Z" stroke-width="1.5" fill="none" stroke-linejoin="miter"/>
<path d="M158.50,324.40L164.20,330.10L158.50,335.80L152.80,330.10Z" stroke-width="1.5" fill="none" stroke-linejoin="miter"/>
<path d="M170.00,286.90L175.70,292.60L170.00,298.30L164.30,292.60Z" stroke-width="1.5" fill="none" stroke-linejoin="miter"/>
<path d="M176.70,285.90L182.40,291.60L176.70,297.30L171.00,291.60Z" stroke-width="1.5" fill="none" stroke-linejoin="miter"/>
<path d="M183.30,299.90L189.00,305.60L183.30,311.30L177.60,305.60Z" stroke-width="1.5" fill="none" stroke-linejoin="miter"/>
<path d="M196.00,308.90L201.70,314.60L196.00,320.30L190.30,314.60Z" stroke-width="1.5" fill="none" stroke-linejoin="miter"/>
<path d="M200.70,320.20L206.40,325.90L200.70,331.60L195.00,325.90Z" stroke-width="1.5" fill="none" stroke-linejoin="miter"/>
<path d="M207.30,316.20L213.00,321.90L207.30,327.60L201.60,321.90Z" stroke-width="1.5" fill="none" stroke-linejoin="miter"/>
<path d="M220.70,302.20L226.40,307.90L220.70,313.60L215.00,307.90Z" stroke-width="1.5" fill="none" stroke-linejoin="miter"/>
<path d="M214.00,328.60L219.70,334.30L214.00,340.00L208.30,334.30Z" stroke-width="1.5" fill="none" stroke-linejoin="miter"/>
<path d="M238.50,341.90L244.20,347.60L238.50,353.30L232.80,347.60Z" stroke-width="1.5" fill="none" stroke-linejoin="miter"/>
<path d="M245.30,322.20L251.00,327.90L245.30,333.60L239.60,327.90Z" stroke-width="1.5" fill="none" stroke-linejoin="miter"/>
<path d="M127.00,315.90L127.00,310.50M127.00,315.90L121.86,314.23M127.00,315.90L123.83,320.27M127.00,315.90L130.17,320.27M127.00,315.90L132.14,314.23" stroke-width="1.5" fill="none"/>
<path d="M136.00,330.10L136.00,324.70M136.00,330.10L130.86,328.43M136.00,330.10L132.83,334.47M136.00,330.10L139.17,334.47M136.00,330.10L141.14,328.43" stroke-width="1.5" fill="none"/>
<path d="M145.50,336.40L145.50,331.00M145.50,336.40L140.36,334.73M145.50,336.40L142.33,340.77M145.50,336.40L148.67,340.77M145.50,336.40L150.64,334.73" stroke-width="1.5" fill="none"/>
<path d="M151.50,338.10L151.50,332.70M151.50,338.10L146.36,336.43M151.50,338.10L148.33,342.47M151.50,338.10L154.67,342.47M151.50,338.10L156.64,336.43" stroke-width="1.5" fill="none"/>
<path d="M158.00,314.10L158.00,308.70M158.00,314.10L152.86,312.43M158.00,314.10L154.83,318.47M158.00,314.10L161.17,318.47M158.00,314.10L163.14,312.43" stroke-width="1.5" fill="none"/>
<path d="M171.00,324.40L171.00,319.00M171.00,324.40L165.86,322.73M171.00,324.40L167.83,328.77M171.00,324.40L174.17,328.77M171.00,324.40L176.14,322.73" stroke-width="1.5" fill="none"/>
<path d="M176.00,296.40L176.00,291.00M176.00,296.40L170.86,294.73M176.00,296.40L172.83,300.77M176.00,296.40L179.17,300.77M176.00,296.40L181.14,294.73" stroke-width="1.5" fill="none"/>
<path d="M183.50,296.80L183.50,291.40M183.50,296.80L178.36,295.13M183.50,296.80L180.33,301.17M183.50,296.80L186.67,301.17M183.50,296.80L188.64,295.13" stroke-width="1.5" fill="none"/>
<path d="M195.30,332.60L195.30,327.20M195.30,332.60L190.16,330.93M195.30,332.60L192.13,336.97M195.30,332.60L198.47,336.97M195.30,332.60L200.44,330.93" stroke-width="1.5" fill="none"/>
<path d="M201.30,321.30L201.30,315.90M201.30,321.30L196.16,319.63M201.30,321.30L198.13,325.67M201.30,321.30L204.47,325.67M201.30,321.30L206.44,319.63" stroke-width="1.5" fill="none"/>
<path d="M214.00,322.10L214.00,316.70M214.00,322.10L208.86,320.43M214.00,322.10L210.83,326.47M214.00,322.10L217.17,326.47M214.00,322.10L219.14,320.43" stroke-width="1.5" fill="none"/>
<path d="M220.50,315.90L220.50,310.50M220.50,315.90L215.36,314.23M220.50,315.90L217.33,320.27M220.50,315.90L223.67,320.27M220.50,315.90L225.64,314.23" stroke-width="1.5" fill="none"/>
<path d="M207.70,341.60L207.70,336.20M207.70,341.60L202.56,339.93M207.70,341.60L204.53,345.97M207.70,341.60L210.87,345.97M207.70,341.60L212.84,339.93" stroke-width="1.5" fill="none"/>
<path d="M226.40,341.60L226.40,336.20M226.40,341.60L221.26,339.93M226.40,341.60L223.23,345.97M226.40,341.60L229.57,345.97M226.40,341.60L231.54,339.93" stroke-width="1.5" fill="none"/>
<path d="M165.00,309.90L170.70,315.60L165.00,321.30L159.30,315.60Z" stroke-width="1.5" fill="none" stroke-linejoin="miter"/>
<path d="M165.00,315.60L165.00,310.20M165.00,315.60L159.86,313.93M165.00,315.60L161.83,319.97M165.00,315.60L168.17,319.97M165.00,315.60L170.14,313.93" stroke-width="1.5" fill="none"/>
<path d="M188.70,312.90L194.40,318.60L188.70,324.30L183.00,318.60Z" stroke-width="1.5" fill="none" stroke-linejoin="miter"/>
<path d="M188.70,318.60L188.70,313.20M188.70,318.60L183.56,316.93M188.70,318.60L185.53,322.97M188.70,318.60L191.87,322.97M188.70,318.60L193.84,316.93" stroke-width="1.5" fill="none"/>
<rect x="382.05" y="224.70" width="197.00" height="127.65" fill="none" stroke-width="1.7" stroke-linejoin="round"/>
<line x1="394.36" y1="352.35" x2="394.36" y2="349.35" stroke-width="1.5"/>
<line x1="394.36" y1="224.70" x2="394.36" y2="227.70" stroke-width="1.5"/>
<line x1="406.68" y1="352.35" x2="406.68" y2="349.35" stroke-width="1.5"/>
<line x1="406.68" y1="224.70" x2="406.68" y2="227.70" stroke-width="1.5"/>
<line x1="418.99" y1="352.35" x2="418.99" y2="349.35" stroke-width="1.5"/>
<line x1="418.99" y1="224.70" x2="418.99" y2="227.70" stroke-width="1.5"/>
<line x1="431.30" y1="352.35" x2="431.30" y2="346.16" stroke-width="1.5"/>
<line x1="431.30" y1="224.70" x2="431.30" y2="230.89" stroke-width="1.5"/>
<line x1="443.61" y1="352.35" x2="443.61" y2="349.35" stroke-width="1.5"/>
<line x1="443.61" y1="224.70" x2="443.61" y2="227.70" stroke-width="1.5"/>
<line x1="455.92" y1="352.35" x2="455.92" y2="349.35" stroke-width="1.5"/>
<line x1="455.92" y1="224.70" x2="455.92" y2="227.70" stroke-width="1.5"/>
<line x1="468.24" y1="352.35" x2="468.24" y2="349.35" stroke-width="1.5"/>
<line x1="468.24" y1="224.70" x2="468.24" y2="227.70" stroke-width="1.5"/>
<line x1="480.55" y1="352.35" x2="480.55" y2="346.16" stroke-width="1.5"/>
<line x1="480.55" y1="224.70" x2="480.55" y2="230.89" stroke-width="1.5"/>
<line x1="492.86" y1="352.35" x2="492.86" y2="349.35" stroke-width="1.5"/>
<line x1="492.86" y1="224.70" x2="492.86" y2="227.70" stroke-width="1.5"/>
<line x1="505.17" y1="352.35" x2="505.17" y2="349.35" stroke-width="1.5"/>
<line x1="505.17" y1="224.70" x2="505.17" y2="227.70" stroke-width="1.5"/>
<line x1="517.49" y1="352.35" x2="517.49" y2="349.35" stroke-width="1.5"/>
<line x1="517.49" y1="224.70" x2="517.49" y2="227.70" stroke-width="1.5"/>
<line x1="529.80" y1="352.35" x2="529.80" y2="346.16" stroke-width="1.5"/>
<line x1="529.80" y1="224.70" x2="529.80" y2="230.89" stroke-width="1.5"/>
<line x1="542.11" y1="352.35" x2="542.11" y2="349.35" stroke-width="1.5"/>
<line x1="542.11" y1="224.70" x2="542.11" y2="227.70" stroke-width="1.5"/>
<line x1="554.42" y1="352.35" x2="554.42" y2="349.35" stroke-width="1.5"/>
<line x1="554.42" y1="224.70" x2="554.42" y2="227.70" stroke-width="1.5"/>
<line x1="566.74" y1="352.35" x2="566.74" y2="349.35" stroke-width="1.5"/>
<line x1="566.74" y1="224.70" x2="566.74" y2="227.70" stroke-width="1.5"/>
<line x1="382.05" y1="345.97" x2="386.57" y2="345.97" stroke-width="1.5"/>
<line x1="579.05" y1="345.97" x2="574.53" y2="345.97" stroke-width="1.5"/>
<line x1="382.05" y1="339.59" x2="386.57" y2="339.59" stroke-width="1.5"/>
<line x1="579.05" y1="339.59" x2="574.53" y2="339.59" stroke-width="1.5"/>
<line x1="382.05" y1="333.20" x2="386.57" y2="333.20" stroke-width="1.5"/>
<line x1="579.05" y1="333.20" x2="574.53" y2="333.20" stroke-width="1.5"/>
<line x1="382.05" y1="326.82" x2="391.38" y2="326.82" stroke-width="1.5"/>
<line x1="579.05" y1="326.82" x2="569.72" y2="326.82" stroke-width="1.5"/>
<line x1="382.05" y1="320.44" x2="386.57" y2="320.44" stroke-width="1.5"/>
<line x1="579.05" y1="320.44" x2="574.53" y2="320.44" stroke-width="1.5"/>
<line x1="382.05" y1="314.06" x2="386.57" y2="314.06" stroke-width="1.5"/>
<line x1="579.05" y1="314.06" x2="574.53" y2="314.06" stroke-width="1.5"/>
<line x1="382.05" y1="307.67" x2="386.57" y2="307.67" stroke-width="1.5"/>
<line x1="579.05" y1="307.67" x2="574.53" y2="307.67" stroke-width="1.5"/>
<line x1="382.05" y1="301.29" x2="391.38" y2="301.29" stroke-width="1.5"/>
<line x1="579.05" y1="301.29" x2="569.72" y2="301.29" stroke-width="1.5"/>
<line x1="382.05" y1="294.91" x2="386.57" y2="294.91" stroke-width="1.5"/>
<line x1="579.05" y1="294.91" x2="574.53" y2="294.91" stroke-width="1.5"/>
<line x1="382.05" y1="288.52" x2="386.57" y2="288.52" stroke-width="1.5"/>
<line x1="579.05" y1="288.52" x2="574.53" y2="288.52" stroke-width="1.5"/>
<line x1="382.05" y1="282.14" x2="386.57" y2="282.14" stroke-width="1.5"/>
<line x1="579.05" y1="282.14" x2="574.53" y2="282.14" stroke-width="1.5"/>
<line x1="382.05" y1="275.76" x2="391.38" y2="275.76" stroke-width="1.5"/>
<line x1="579.05" y1="275.76" x2="569.72" y2="275.76" stroke-width="1.5"/>
<line x1="382.05" y1="269.38" x2="386.57" y2="269.38" stroke-width="1.5"/>
<line x1="579.05" y1="269.38" x2="574.53" y2="269.38" stroke-width="1.5"/>
<line x1="382.05" y1="263.00" x2="386.57" y2="263.00" stroke-width="1.5"/>
<line x1="579.05" y1="263.00" x2="574.53" y2="263.00" stroke-width="1.5"/>
<line x1="382.05" y1="256.61" x2="386.57" y2="256.61" stroke-width="1.5"/>
<line x1="579.05" y1="256.61" x2="574.53" y2="256.61" stroke-width="1.5"/>
<line x1="382.05" y1="250.23" x2="391.38" y2="250.23" stroke-width="1.5"/>
<line x1="579.05" y1="250.23" x2="569.72" y2="250.23" stroke-width="1.5"/>
<line x1="382.05" y1="243.85" x2="386.57" y2="243.85" stroke-width="1.5"/>
<line x1="579.05" y1="243.85" x2="574.53" y2="243.85" stroke-width="1.5"/>
<line x1="382.05" y1="237.46" x2="386.57" y2="237.46" stroke-width="1.5"/>
<line x1="579.05" y1="237.46" x2="574.53" y2="237.46" stroke-width="1.5"/>
<line x1="382.05" y1="231.08" x2="386.57" y2="231.08" stroke-width="1.5"/>
<line x1="579.05" y1="231.08" x2="574.53" y2="231.08" stroke-width="1.5"/>
<text x="369.62" y="358.35" font-size="13.3">0</text>
<text x="343.16" y="333.67" font-size="13.3">2×10</text>
<text x="373.23" y="326.67" font-size="7.7">9</text>
<text x="343.16" y="308.14" font-size="13.3">4×10</text>
<text x="373.23" y="301.14" font-size="7.7">9</text>
<text x="343.16" y="282.61" font-size="13.3">6×10</text>
<text x="373.23" y="275.61" font-size="7.7">9</text>
<text x="343.16" y="257.08" font-size="13.3">8×10</text>
<text x="373.23" y="250.08" font-size="7.7">9</text>
<text x="339.03" y="231.55" font-size="13.3">1×10</text>
<text x="368.89" y="224.55" font-size="7.7">10</text>
<text x="360.68" y="370.20" font-size="13.3">−4×10</text>
<text x="398.71" y="363.20" font-size="7.7">4</text>
<text x="409.93" y="370.20" font-size="13.3">−2×10</text>
<text x="447.96" y="363.20" font-size="7.7">4</text>
<text x="476.85" y="370.20" font-size="13.3">0</text>
<text x="512.81" y="370.20" font-size="13.3">2×10</text>
<text x="543.07" y="363.20" font-size="7.7">4</text>
<text x="562.99" y="370.20" font-size="13.3">4×10</text>
<text x="593.25" y="363.20" font-size="7.7">4</text>
<text x="393.89" y="388.95" font-size="13.3">Cometocentric Distance (km)</text>
<g transform="translate(325.70,373.92) rotate(-90)">
<text x="-0.68" y="0" font-size="13.45">Column Density of NH (cm</text>
<text x="159.91" y="-7.2" font-size="8.4">−2</text>
<text x="170.19" y="0" font-size="13.45">)</text>
</g>
<text x="418.99" y="248.70" font-size="13.3">120</text>
<text x="440.93" y="242.40" font-size="7.7">o</text>
<text x="519.49" y="248.70" font-size="13.3">300</text>
<text x="541.44" y="242.40" font-size="7.7">o</text>
<polyline points="382.05,342.30 410.00,339.50 430.00,336.50 440.00,334.00 455.00,329.50 465.00,324.00 472.00,317.00 476.00,310.00 478.00,301.00 479.00,294.50" fill="none" stroke-width="1.45" stroke-linejoin="round"/>
<polyline points="482.70,281.00 486.70,295.70 492.00,305.00 500.00,311.70 504.00,314.90 513.30,317.50 527.30,322.40 550.60,327.20 579.05,330.60" fill="none" stroke-width="1.45" stroke-linejoin="round"/>
<path d="M435.50,331.80L441.20,337.50L435.50,343.20L429.80,337.50Z" stroke-width="1.5" fill="none" stroke-linejoin="miter"/>
<path d="M454.00,317.60L459.70,323.30L454.00,329.00L448.30,323.30Z" stroke-width="1.5" fill="none" stroke-linejoin="miter"/>
<path d="M460.90,311.80L466.60,317.50L460.90,323.20L455.20,317.50Z" stroke-width="1.5" fill="none" stroke-linejoin="miter"/>
<path d="M471.30,281.30L477.00,287.00L471.30,292.70L465.60,287.00Z" stroke-width="1.5" fill="none" stroke-linejoin="miter"/>
<path d="M478.00,318.30L483.70,324.00L478.00,329.70L472.30,324.00Z" stroke-width="1.5" fill="none" stroke-linejoin="miter"/>
<path d="M496.70,284.60L502.40,290.30L496.70,296.00L491.00,290.30Z" stroke-width="1.5" fill="none" stroke-linejoin="miter"/>
<path d="M508.10,294.70L513.80,300.40L508.10,306.10L502.40,300.40Z" stroke-width="1.5" fill="none" stroke-linejoin="miter"/>
<path d="M514.20,301.80L519.90,307.50L514.20,313.20L508.50,307.50Z" stroke-width="1.5" fill="none" stroke-linejoin="miter"/>
<path d="M526.70,306.50L532.40,312.20L526.70,317.90L521.00,312.20Z" stroke-width="1.5" fill="none" stroke-linejoin="miter"/>
<path d="M502.70,326.20L508.40,331.90L502.70,337.60L497.00,331.90Z" stroke-width="1.5" fill="none" stroke-linejoin="miter"/>
<path d="M520.50,332.40L526.20,338.10L520.50,343.80L514.80,338.10Z" stroke-width="1.5" fill="none" stroke-linejoin="miter"/>
<path d="M550.60,318.00L556.30,323.70L550.60,329.40L544.90,323.70Z" stroke-width="1.5" fill="none" stroke-linejoin="miter"/>
<path d="M544.40,329.70L550.10,335.40L544.40,341.10L538.70,335.40Z" stroke-width="1.5" fill="none" stroke-linejoin="miter"/>
<path d="M453.30,306.00L453.30,300.60M453.30,306.00L448.16,304.33M453.30,306.00L450.13,310.37M453.30,306.00L456.47,310.37M453.30,306.00L458.44,304.33" stroke-width="1.5" fill="none"/>
<path d="M459.30,330.00L459.30,324.60M459.30,330.00L454.16,328.33M459.30,330.00L456.13,334.37M459.30,330.00L462.47,334.37M459.30,330.00L464.44,328.33" stroke-width="1.5" fill="none"/>
<path d="M465.30,338.00L465.30,332.60M465.30,338.00L460.16,336.33M465.30,338.00L462.13,342.37M465.30,338.00L468.47,342.37M465.30,338.00L470.44,336.33" stroke-width="1.5" fill="none"/>
<path d="M440.70,334.70L440.70,329.30M440.70,334.70L435.56,333.03M440.70,334.70L437.53,339.07M440.70,334.70L443.87,339.07M440.70,334.70L445.84,333.03" stroke-width="1.5" fill="none"/>
<path d="M447.30,348.70L447.30,343.30M447.30,348.70L442.16,347.03M447.30,348.70L444.13,353.07M447.30,348.70L450.47,353.07M447.30,348.70L452.44,347.03" stroke-width="1.5" fill="none"/>
<path d="M476.70,287.70L476.70,282.30M476.70,287.70L471.56,286.03M476.70,287.70L473.53,292.07M476.70,287.70L479.87,292.07M476.70,287.70L481.84,286.03" stroke-width="1.5" fill="none"/>
<path d="M507.70,295.00L507.70,289.60M507.70,295.00L502.56,293.33M507.70,295.00L504.53,299.37M507.70,295.00L510.87,299.37M507.70,295.00L512.84,293.33" stroke-width="1.5" fill="none"/>
<path d="M514.10,293.70L514.10,288.30M514.10,293.70L508.96,292.03M514.10,293.70L510.93,298.07M514.10,293.70L517.27,298.07M514.10,293.70L519.24,292.03" stroke-width="1.5" fill="none"/>
<path d="M495.30,307.70L495.30,302.30M495.30,307.70L490.16,306.03M495.30,307.70L492.13,312.07M495.30,307.70L498.47,312.07M495.30,307.70L500.44,306.03" stroke-width="1.5" fill="none"/>
<path d="M501.40,314.30L501.40,308.90M501.40,314.30L496.26,312.63M501.40,314.30L498.23,318.67M501.40,314.30L504.57,318.67M501.40,314.30L506.54,312.63" stroke-width="1.5" fill="none"/>
<path d="M525.60,316.60L525.60,311.20M525.60,316.60L520.46,314.93M525.60,316.60L522.43,320.97M525.60,316.60L528.77,320.97M525.60,316.60L530.74,314.93" stroke-width="1.5" fill="none"/>
<path d="M519.80,333.30L519.80,327.90M519.80,333.30L514.66,331.63M519.80,333.30L516.63,337.67M519.80,333.30L522.97,337.67M519.80,333.30L524.94,331.63" stroke-width="1.5" fill="none"/>
<path d="M550.60,327.10L550.60,321.70M550.60,327.10L545.46,325.43M550.60,327.10L547.43,331.47M550.60,327.10L553.77,331.47M550.60,327.10L555.74,325.43" stroke-width="1.5" fill="none"/>
<path d="M543.70,339.50L543.70,334.10M543.70,339.50L538.56,337.83M543.70,339.50L540.53,343.87M543.70,339.50L546.87,343.87M543.70,339.50L548.84,337.83" stroke-width="1.5" fill="none"/>
<path d="M490.00,282.00L495.70,287.70L490.00,293.40L484.30,287.70Z" stroke-width="1.5" fill="none" stroke-linejoin="miter"/>
<path d="M490.00,287.70L490.00,282.30M490.00,287.70L484.86,286.03M490.00,287.70L486.83,292.07M490.00,287.70L493.17,292.07M490.00,287.70L495.14,286.03" stroke-width="1.5" fill="none"/>
<path d="M484.00,314.00L489.70,319.70L484.00,325.40L478.30,319.70Z" stroke-width="1.5" fill="none" stroke-linejoin="miter"/>
<path d="M484.00,319.70L484.00,314.30M484.00,319.70L478.86,318.03M484.00,319.70L480.83,324.07M484.00,319.70L487.17,324.07M484.00,319.70L489.14,318.03" stroke-width="1.5" fill="none"/>
<rect x="73.75" y="413.60" width="202.00" height="139.25" fill="none" stroke-width="1.7" stroke-linejoin="round"/>
<line x1="86.38" y1="552.85" x2="86.38" y2="549.58" stroke-width="1.5"/>
<line x1="86.38" y1="413.60" x2="86.38" y2="416.87" stroke-width="1.5"/>
<line x1="99.00" y1="552.85" x2="99.00" y2="549.58" stroke-width="1.5"/>
<line x1="99.00" y1="413.60" x2="99.00" y2="416.87" stroke-width="1.5"/>
<line x1="111.62" y1="552.85" x2="111.62" y2="549.58" stroke-width="1.5"/>
<line x1="111.62" y1="413.60" x2="111.62" y2="416.87" stroke-width="1.5"/>
<line x1="124.25" y1="552.85" x2="124.25" y2="546.10" stroke-width="1.5"/>
<line x1="124.25" y1="413.60" x2="124.25" y2="420.35" stroke-width="1.5"/>
<line x1="136.88" y1="552.85" x2="136.88" y2="549.58" stroke-width="1.5"/>
<line x1="136.88" y1="413.60" x2="136.88" y2="416.87" stroke-width="1.5"/>
<line x1="149.50" y1="552.85" x2="149.50" y2="549.58" stroke-width="1.5"/>
<line x1="149.50" y1="413.60" x2="149.50" y2="416.87" stroke-width="1.5"/>
<line x1="162.12" y1="552.85" x2="162.12" y2="549.58" stroke-width="1.5"/>
<line x1="162.12" y1="413.60" x2="162.12" y2="416.87" stroke-width="1.5"/>
<line x1="174.75" y1="552.85" x2="174.75" y2="546.10" stroke-width="1.5"/>
<line x1="174.75" y1="413.60" x2="174.75" y2="420.35" stroke-width="1.5"/>
<line x1="187.38" y1="552.85" x2="187.38" y2="549.58" stroke-width="1.5"/>
<line x1="187.38" y1="413.60" x2="187.38" y2="416.87" stroke-width="1.5"/>
<line x1="200.00" y1="552.85" x2="200.00" y2="549.58" stroke-width="1.5"/>
<line x1="200.00" y1="413.60" x2="200.00" y2="416.87" stroke-width="1.5"/>
<line x1="212.62" y1="552.85" x2="212.62" y2="549.58" stroke-width="1.5"/>
<line x1="212.62" y1="413.60" x2="212.62" y2="416.87" stroke-width="1.5"/>
<line x1="225.25" y1="552.85" x2="225.25" y2="546.10" stroke-width="1.5"/>
<line x1="225.25" y1="413.60" x2="225.25" y2="420.35" stroke-width="1.5"/>
<line x1="237.88" y1="552.85" x2="237.88" y2="549.58" stroke-width="1.5"/>
<line x1="237.88" y1="413.60" x2="237.88" y2="416.87" stroke-width="1.5"/>
<line x1="250.50" y1="552.85" x2="250.50" y2="549.58" stroke-width="1.5"/>
<line x1="250.50" y1="413.60" x2="250.50" y2="416.87" stroke-width="1.5"/>
<line x1="263.12" y1="552.85" x2="263.12" y2="549.58" stroke-width="1.5"/>
<line x1="263.12" y1="413.60" x2="263.12" y2="416.87" stroke-width="1.5"/>
<line x1="73.75" y1="545.89" x2="78.38" y2="545.89" stroke-width="1.5"/>
<line x1="275.75" y1="545.89" x2="271.12" y2="545.89" stroke-width="1.5"/>
<line x1="73.75" y1="538.93" x2="78.38" y2="538.93" stroke-width="1.5"/>
<line x1="275.75" y1="538.93" x2="271.12" y2="538.93" stroke-width="1.5"/>
<line x1="73.75" y1="531.96" x2="78.38" y2="531.96" stroke-width="1.5"/>
<line x1="275.75" y1="531.96" x2="271.12" y2="531.96" stroke-width="1.5"/>
<line x1="73.75" y1="525.00" x2="83.32" y2="525.00" stroke-width="1.5"/>
<line x1="275.75" y1="525.00" x2="266.18" y2="525.00" stroke-width="1.5"/>
<line x1="73.75" y1="518.04" x2="78.38" y2="518.04" stroke-width="1.5"/>
<line x1="275.75" y1="518.04" x2="271.12" y2="518.04" stroke-width="1.5"/>
<line x1="73.75" y1="511.08" x2="78.38" y2="511.08" stroke-width="1.5"/>
<line x1="275.75" y1="511.08" x2="271.12" y2="511.08" stroke-width="1.5"/>
<line x1="73.75" y1="504.11" x2="78.38" y2="504.11" stroke-width="1.5"/>
<line x1="275.75" y1="504.11" x2="271.12" y2="504.11" stroke-width="1.5"/>
<line x1="73.75" y1="497.15" x2="83.32" y2="497.15" stroke-width="1.5"/>
<line x1="275.75" y1="497.15" x2="266.18" y2="497.15" stroke-width="1.5"/>
<line x1="73.75" y1="490.19" x2="78.38" y2="490.19" stroke-width="1.5"/>
<line x1="275.75" y1="490.19" x2="271.12" y2="490.19" stroke-width="1.5"/>
<line x1="73.75" y1="483.23" x2="78.38" y2="483.23" stroke-width="1.5"/>
<line x1="275.75" y1="483.23" x2="271.12" y2="483.23" stroke-width="1.5"/>
<line x1="73.75" y1="476.26" x2="78.38" y2="476.26" stroke-width="1.5"/>
<line x1="275.75" y1="476.26" x2="271.12" y2="476.26" stroke-width="1.5"/>
<line x1="73.75" y1="469.30" x2="83.32" y2="469.30" stroke-width="1.5"/>
<line x1="275.75" y1="469.30" x2="266.18" y2="469.30" stroke-width="1.5"/>
<line x1="73.75" y1="462.34" x2="78.38" y2="462.34" stroke-width="1.5"/>
<line x1="275.75" y1="462.34" x2="271.12" y2="462.34" stroke-width="1.5"/>
<line x1="73.75" y1="455.38" x2="78.38" y2="455.38" stroke-width="1.5"/>
<line x1="275.75" y1="455.38" x2="271.12" y2="455.38" stroke-width="1.5"/>
<line x1="73.75" y1="448.41" x2="78.38" y2="448.41" stroke-width="1.5"/>
<line x1="275.75" y1="448.41" x2="271.12" y2="448.41" stroke-width="1.5"/>
<line x1="73.75" y1="441.45" x2="83.32" y2="441.45" stroke-width="1.5"/>
<line x1="275.75" y1="441.45" x2="266.18" y2="441.45" stroke-width="1.5"/>
<line x1="73.75" y1="434.49" x2="78.38" y2="434.49" stroke-width="1.5"/>
<line x1="275.75" y1="434.49" x2="271.12" y2="434.49" stroke-width="1.5"/>
<line x1="73.75" y1="427.53" x2="78.38" y2="427.53" stroke-width="1.5"/>
<line x1="275.75" y1="427.53" x2="271.12" y2="427.53" stroke-width="1.5"/>
<line x1="73.75" y1="420.56" x2="78.38" y2="420.56" stroke-width="1.5"/>
<line x1="275.75" y1="420.56" x2="271.12" y2="420.56" stroke-width="1.5"/>
<text x="59.72" y="558.35" font-size="13.3">0</text>
<text x="33.86" y="531.81" font-size="13.3">2×10</text>
<text x="63.93" y="524.81" font-size="7.7">9</text>
<text x="33.86" y="504.42" font-size="13.3">4×10</text>
<text x="63.93" y="497.42" font-size="7.7">9</text>
<text x="33.86" y="477.03" font-size="13.3">6×10</text>
<text x="63.93" y="470.03" font-size="7.7">9</text>
<text x="33.86" y="449.64" font-size="13.3">8×10</text>
<text x="63.93" y="442.64" font-size="7.7">9</text>
<text x="30.73" y="422.25" font-size="13.3">1×10</text>
<text x="60.59" y="415.25" font-size="7.7">10</text>
<text x="52.38" y="571.00" font-size="13.3">−4×10</text>
<text x="90.41" y="564.00" font-size="7.7">4</text>
<text x="102.63" y="571.00" font-size="13.3">−2×10</text>
<text x="140.66" y="564.00" font-size="7.7">4</text>
<text x="170.95" y="571.00" font-size="13.3">0</text>
<text x="209.36" y="571.00" font-size="13.3">2×10</text>
<text x="239.62" y="564.00" font-size="7.7">4</text>
<text x="259.94" y="571.00" font-size="13.3">4×10</text>
<text x="290.20" y="564.00" font-size="7.7">4</text>
<text x="87.29" y="590.15" font-size="13.3">Cometocentric Distance (km)</text>
<g transform="translate(15.90,568.62) rotate(-90)">
<text x="-0.68" y="0" font-size="13.45">Column Density of NH (cm</text>
<text x="159.91" y="-7.2" font-size="8.4">−2</text>
<text x="170.19" y="0" font-size="13.45">)</text>
</g>
<text x="110.99" y="438.40" font-size="13.3">135</text>
<text x="132.90" y="432.10" font-size="7.7">o</text>
<text x="214.49" y="438.60" font-size="13.3">315</text>
<text x="236.40" y="432.30" font-size="7.7">o</text>
<polyline points="73.75,547.20 102.00,546.00 130.00,543.40 152.50,540.00 165.00,534.60 169.30,531.50 173.00,522.70" fill="none" stroke-width="1.45" stroke-linejoin="round"/>
<polyline points="176.00,485.30 180.00,498.00 184.00,505.30 192.00,513.30 204.00,519.80 216.00,523.50 228.00,526.00 275.75,532.60" fill="none" stroke-width="1.45" stroke-linejoin="round"/>
<path d="M247.30,502.80L253.00,508.50L247.30,514.20L241.60,508.50Z" stroke-width="1.5" fill="none" stroke-linejoin="miter"/>
<path d="M135.80,539.30L141.50,545.00L135.80,550.70L130.10,545.00Z" stroke-width="1.5" fill="none" stroke-linejoin="miter"/>
<path d="M150.00,544.30L155.70,550.00L150.00,555.70L144.30,550.00Z" stroke-width="1.5" fill="none" stroke-linejoin="miter"/>
<path d="M160.80,531.00L166.50,536.70L160.80,542.40L155.10,536.70Z" stroke-width="1.5" fill="none" stroke-linejoin="miter"/>
<path d="M168.30,529.70L174.00,535.40L168.30,541.10L162.60,535.40Z" stroke-width="1.5" fill="none" stroke-linejoin="miter"/>
<path d="M173.30,493.30L179.00,499.00L173.30,504.70L167.60,499.00Z" stroke-width="1.5" fill="none" stroke-linejoin="miter"/>
<path d="M179.30,529.60L185.00,535.30L179.30,541.00L173.60,535.30Z" stroke-width="1.5" fill="none" stroke-linejoin="miter"/>
<path d="M185.30,480.30L191.00,486.00L185.30,491.70L179.60,486.00Z" stroke-width="1.5" fill="none" stroke-linejoin="miter"/>
<path d="M192.00,488.30L197.70,494.00L192.00,499.70L186.30,494.00Z" stroke-width="1.5" fill="none" stroke-linejoin="miter"/>
<path d="M198.70,510.30L204.40,516.00L198.70,521.70L193.00,516.00Z" stroke-width="1.5" fill="none" stroke-linejoin="miter"/>
<path d="M204.00,511.60L209.70,517.30L204.00,523.00L198.30,517.30Z" stroke-width="1.5" fill="none" stroke-linejoin="miter"/>
<path d="M216.00,508.30L221.70,514.00L216.00,519.70L210.30,514.00Z" stroke-width="1.5" fill="none" stroke-linejoin="miter"/>
<path d="M222.70,519.00L228.40,524.70L222.70,530.40L217.00,524.70Z" stroke-width="1.5" fill="none" stroke-linejoin="miter"/>
<path d="M247.30,510.60L247.30,505.20M247.30,510.60L242.16,508.93M247.30,510.60L244.13,514.97M247.30,510.60L250.47,514.97M247.30,510.60L252.44,508.93" stroke-width="1.5" fill="none"/>
<path d="M149.20,552.50L149.20,547.10M149.20,552.50L144.06,550.83M149.20,552.50L146.03,556.87M149.20,552.50L152.37,556.87M149.20,552.50L154.34,550.83" stroke-width="1.5" fill="none"/>
<path d="M154.60,536.70L154.60,531.30M154.60,536.70L149.46,535.03M154.60,536.70L151.43,541.07M154.60,536.70L157.77,541.07M154.60,536.70L159.74,535.03" stroke-width="1.5" fill="none"/>
<path d="M167.10,546.30L167.10,540.90M167.10,546.30L161.96,544.63M167.10,546.30L163.93,550.67M167.10,546.30L170.27,550.67M167.10,546.30L172.24,544.63" stroke-width="1.5" fill="none"/>
<path d="M172.70,510.70L172.70,505.30M172.70,510.70L167.56,509.03M172.70,510.70L169.53,515.07M172.70,510.70L175.87,515.07M172.70,510.70L177.84,509.03" stroke-width="1.5" fill="none"/>
<path d="M179.30,517.30L179.30,511.90M179.30,517.30L174.16,515.63M179.30,517.30L176.13,521.67M179.30,517.30L182.47,521.67M179.30,517.30L184.44,515.63" stroke-width="1.5" fill="none"/>
<path d="M186.00,530.70L186.00,525.30M186.00,530.70L180.86,529.03M186.00,530.70L182.83,535.07M186.00,530.70L189.17,535.07M186.00,530.70L191.14,529.03" stroke-width="1.5" fill="none"/>
<path d="M191.30,488.70L191.30,483.30M191.30,488.70L186.16,487.03M191.30,488.70L188.13,493.07M191.30,488.70L194.47,493.07M191.30,488.70L196.44,487.03" stroke-width="1.5" fill="none"/>
<path d="M200.00,516.70L200.00,511.30M200.00,516.70L194.86,515.03M200.00,516.70L196.83,521.07M200.00,516.70L203.17,521.07M200.00,516.70L205.14,515.03" stroke-width="1.5" fill="none"/>
<path d="M222.00,516.60L222.00,511.20M222.00,516.60L216.86,514.93M222.00,516.60L218.83,520.97M222.00,516.60L225.17,520.97M222.00,516.60L227.14,514.93" stroke-width="1.5" fill="none"/>
<path d="M204.00,530.00L204.00,524.60M204.00,530.00L198.86,528.33M204.00,530.00L200.83,534.37M204.00,530.00L207.17,534.37M204.00,530.00L209.14,528.33" stroke-width="1.5" fill="none"/>
<path d="M197.30,535.30L197.30,529.90M197.30,535.30L192.16,533.63M197.30,535.30L194.13,539.67M197.30,535.30L200.47,539.67M197.30,535.30L202.44,533.63" stroke-width="1.5" fill="none"/>
<path d="M241.00,550.70L241.00,545.30M241.00,550.70L235.86,549.03M241.00,550.70L237.83,555.07M241.00,550.70L244.17,555.07M241.00,550.70L246.14,549.03" stroke-width="1.5" fill="none"/>
<path d="M130.00,525.10L135.70,530.80L130.00,536.50L124.30,530.80Z" stroke-width="1.5" fill="none" stroke-linejoin="miter"/>
<path d="M130.00,530.80L130.00,525.40M130.00,530.80L124.86,529.13M130.00,530.80L126.83,535.17M130.00,530.80L133.17,535.17M130.00,530.80L135.14,529.13" stroke-width="1.5" fill="none"/>
<path d="M141.70,539.70L147.40,545.40L141.70,551.10L136.00,545.40Z" stroke-width="1.5" fill="none" stroke-linejoin="miter"/>
<path d="M141.70,545.40L141.70,540.00M141.70,545.40L136.56,543.73M141.70,545.40L138.53,549.77M141.70,545.40L144.87,549.77M141.70,545.40L146.84,543.73" stroke-width="1.5" fill="none"/>
<path d="M164.20,530.10L169.90,535.80L164.20,541.50L158.50,535.80Z" stroke-width="1.5" fill="none" stroke-linejoin="miter"/>
<path d="M164.20,535.80L164.20,530.40M164.20,535.80L159.06,534.13M164.20,535.80L161.03,540.17M164.20,535.80L167.37,540.17M164.20,535.80L169.34,534.13" stroke-width="1.5" fill="none"/>
<path d="M210.00,523.60L215.70,529.30L210.00,535.00L204.30,529.30Z" stroke-width="1.5" fill="none" stroke-linejoin="miter"/>
<path d="M210.00,529.30L210.00,523.90M210.00,529.30L204.86,527.63M210.00,529.30L206.83,533.67M210.00,529.30L213.17,533.67M210.00,529.30L215.14,527.63" stroke-width="1.5" fill="none"/>
<rect x="378.20" y="418.95" width="200.75" height="132.85" fill="none" stroke-width="1.7" stroke-linejoin="round"/>
<line x1="390.75" y1="551.80" x2="390.75" y2="548.68" stroke-width="1.5"/>
<line x1="390.75" y1="418.95" x2="390.75" y2="422.07" stroke-width="1.5"/>
<line x1="403.29" y1="551.80" x2="403.29" y2="548.68" stroke-width="1.5"/>
<line x1="403.29" y1="418.95" x2="403.29" y2="422.07" stroke-width="1.5"/>
<line x1="415.84" y1="551.80" x2="415.84" y2="548.68" stroke-width="1.5"/>
<line x1="415.84" y1="418.95" x2="415.84" y2="422.07" stroke-width="1.5"/>
<line x1="428.39" y1="551.80" x2="428.39" y2="545.36" stroke-width="1.5"/>
<line x1="428.39" y1="418.95" x2="428.39" y2="425.39" stroke-width="1.5"/>
<line x1="440.93" y1="551.80" x2="440.93" y2="548.68" stroke-width="1.5"/>
<line x1="440.93" y1="418.95" x2="440.93" y2="422.07" stroke-width="1.5"/>
<line x1="453.48" y1="551.80" x2="453.48" y2="548.68" stroke-width="1.5"/>
<line x1="453.48" y1="418.95" x2="453.48" y2="422.07" stroke-width="1.5"/>
<line x1="466.03" y1="551.80" x2="466.03" y2="548.68" stroke-width="1.5"/>
<line x1="466.03" y1="418.95" x2="466.03" y2="422.07" stroke-width="1.5"/>
<line x1="478.58" y1="551.80" x2="478.58" y2="545.36" stroke-width="1.5"/>
<line x1="478.58" y1="418.95" x2="478.58" y2="425.39" stroke-width="1.5"/>
<line x1="491.12" y1="551.80" x2="491.12" y2="548.68" stroke-width="1.5"/>
<line x1="491.12" y1="418.95" x2="491.12" y2="422.07" stroke-width="1.5"/>
<line x1="503.67" y1="551.80" x2="503.67" y2="548.68" stroke-width="1.5"/>
<line x1="503.67" y1="418.95" x2="503.67" y2="422.07" stroke-width="1.5"/>
<line x1="516.22" y1="551.80" x2="516.22" y2="548.68" stroke-width="1.5"/>
<line x1="516.22" y1="418.95" x2="516.22" y2="422.07" stroke-width="1.5"/>
<line x1="528.76" y1="551.80" x2="528.76" y2="545.36" stroke-width="1.5"/>
<line x1="528.76" y1="418.95" x2="528.76" y2="425.39" stroke-width="1.5"/>
<line x1="541.31" y1="551.80" x2="541.31" y2="548.68" stroke-width="1.5"/>
<line x1="541.31" y1="418.95" x2="541.31" y2="422.07" stroke-width="1.5"/>
<line x1="553.86" y1="551.80" x2="553.86" y2="548.68" stroke-width="1.5"/>
<line x1="553.86" y1="418.95" x2="553.86" y2="422.07" stroke-width="1.5"/>
<line x1="566.40" y1="551.80" x2="566.40" y2="548.68" stroke-width="1.5"/>
<line x1="566.40" y1="418.95" x2="566.40" y2="422.07" stroke-width="1.5"/>
<line x1="378.20" y1="545.16" x2="382.80" y2="545.16" stroke-width="1.5"/>
<line x1="578.95" y1="545.16" x2="574.35" y2="545.16" stroke-width="1.5"/>
<line x1="378.20" y1="538.51" x2="382.80" y2="538.51" stroke-width="1.5"/>
<line x1="578.95" y1="538.51" x2="574.35" y2="538.51" stroke-width="1.5"/>
<line x1="378.20" y1="531.87" x2="382.80" y2="531.87" stroke-width="1.5"/>
<line x1="578.95" y1="531.87" x2="574.35" y2="531.87" stroke-width="1.5"/>
<line x1="378.20" y1="525.23" x2="387.71" y2="525.23" stroke-width="1.5"/>
<line x1="578.95" y1="525.23" x2="569.44" y2="525.23" stroke-width="1.5"/>
<line x1="378.20" y1="518.59" x2="382.80" y2="518.59" stroke-width="1.5"/>
<line x1="578.95" y1="518.59" x2="574.35" y2="518.59" stroke-width="1.5"/>
<line x1="378.20" y1="511.94" x2="382.80" y2="511.94" stroke-width="1.5"/>
<line x1="578.95" y1="511.94" x2="574.35" y2="511.94" stroke-width="1.5"/>
<line x1="378.20" y1="505.30" x2="382.80" y2="505.30" stroke-width="1.5"/>
<line x1="578.95" y1="505.30" x2="574.35" y2="505.30" stroke-width="1.5"/>
<line x1="378.20" y1="498.66" x2="387.71" y2="498.66" stroke-width="1.5"/>
<line x1="578.95" y1="498.66" x2="569.44" y2="498.66" stroke-width="1.5"/>
<line x1="378.20" y1="492.02" x2="382.80" y2="492.02" stroke-width="1.5"/>
<line x1="578.95" y1="492.02" x2="574.35" y2="492.02" stroke-width="1.5"/>
<line x1="378.20" y1="485.38" x2="382.80" y2="485.38" stroke-width="1.5"/>
<line x1="578.95" y1="485.38" x2="574.35" y2="485.38" stroke-width="1.5"/>
<line x1="378.20" y1="478.73" x2="382.80" y2="478.73" stroke-width="1.5"/>
<line x1="578.95" y1="478.73" x2="574.35" y2="478.73" stroke-width="1.5"/>
<line x1="378.20" y1="472.09" x2="387.71" y2="472.09" stroke-width="1.5"/>
<line x1="578.95" y1="472.09" x2="569.44" y2="472.09" stroke-width="1.5"/>
<line x1="378.20" y1="465.45" x2="382.80" y2="465.45" stroke-width="1.5"/>
<line x1="578.95" y1="465.45" x2="574.35" y2="465.45" stroke-width="1.5"/>
<line x1="378.20" y1="458.80" x2="382.80" y2="458.80" stroke-width="1.5"/>
<line x1="578.95" y1="458.80" x2="574.35" y2="458.80" stroke-width="1.5"/>
<line x1="378.20" y1="452.16" x2="382.80" y2="452.16" stroke-width="1.5"/>
<line x1="578.95" y1="452.16" x2="574.35" y2="452.16" stroke-width="1.5"/>
<line x1="378.20" y1="445.52" x2="387.71" y2="445.52" stroke-width="1.5"/>
<line x1="578.95" y1="445.52" x2="569.44" y2="445.52" stroke-width="1.5"/>
<line x1="378.20" y1="438.88" x2="382.80" y2="438.88" stroke-width="1.5"/>
<line x1="578.95" y1="438.88" x2="574.35" y2="438.88" stroke-width="1.5"/>
<line x1="378.20" y1="432.24" x2="382.80" y2="432.24" stroke-width="1.5"/>
<line x1="578.95" y1="432.24" x2="574.35" y2="432.24" stroke-width="1.5"/>
<line x1="378.20" y1="425.59" x2="382.80" y2="425.59" stroke-width="1.5"/>
<line x1="578.95" y1="425.59" x2="574.35" y2="425.59" stroke-width="1.5"/>
<text x="364.17" y="557.80" font-size="13.3">0</text>
<text x="337.81" y="532.08" font-size="13.3">2×10</text>
<text x="367.88" y="525.08" font-size="7.7">9</text>
<text x="337.81" y="505.51" font-size="13.3">4×10</text>
<text x="367.88" y="498.51" font-size="7.7">9</text>
<text x="337.81" y="478.94" font-size="13.3">6×10</text>
<text x="367.88" y="471.94" font-size="7.7">9</text>
<text x="337.81" y="452.37" font-size="13.3">8×10</text>
<text x="367.88" y="445.37" font-size="7.7">9</text>
<text x="333.68" y="425.80" font-size="13.3">1×10</text>
<text x="363.54" y="418.80" font-size="7.7">10</text>
<text x="356.33" y="569.25" font-size="13.3">−4×10</text>
<text x="394.36" y="562.25" font-size="7.7">4</text>
<text x="406.47" y="569.25" font-size="13.3">−2×10</text>
<text x="444.50" y="562.25" font-size="7.7">4</text>
<text x="474.88" y="569.25" font-size="13.3">0</text>
<text x="513.07" y="569.25" font-size="13.3">2×10</text>
<text x="543.33" y="562.25" font-size="7.7">4</text>
<text x="563.19" y="569.25" font-size="13.3">4×10</text>
<text x="593.45" y="562.25" font-size="7.7">4</text>
<text x="391.32" y="588.40" font-size="13.3">Cometocentric Distance (km)</text>
<g transform="translate(321.05,570.77) rotate(-90)">
<text x="-0.68" y="0" font-size="13.45">Column Density of NH (cm</text>
<text x="159.91" y="-7.2" font-size="8.4">−2</text>
<text x="170.19" y="0" font-size="13.45">)</text>
</g>
<text x="415.99" y="442.70" font-size="13.3">150</text>
<text x="437.93" y="436.40" font-size="7.7">o</text>
<text x="517.19" y="442.70" font-size="13.3">330</text>
<text x="539.14" y="436.40" font-size="7.7">o</text>
<polyline points="378.20,546.00 406.00,544.30 429.00,542.60 441.00,540.50 462.00,536.20 466.50,534.50 470.50,532.00 473.50,528.50 475.30,525.00 476.90,520.30" fill="none" stroke-width="1.45" stroke-linejoin="round"/>
<polyline points="480.40,505.20 483.30,512.20 488.00,518.00 495.00,523.80 502.00,526.20 511.30,528.50 525.30,531.40 579.00,538.00" fill="none" stroke-width="1.45" stroke-linejoin="round"/>
<path d="M440.90,529.90L446.60,535.60L440.90,541.30L435.20,535.60Z" stroke-width="1.5" fill="none" stroke-linejoin="miter"/>
<path d="M452.60,542.70L458.30,548.40L452.60,554.10L446.90,548.40Z" stroke-width="1.5" fill="none" stroke-linejoin="miter"/>
<path d="M459.00,533.40L464.70,539.10L459.00,544.80L453.30,539.10Z" stroke-width="1.5" fill="none" stroke-linejoin="miter"/>
<path d="M477.00,512.30L482.70,518.00L477.00,523.70L471.30,518.00Z" stroke-width="1.5" fill="none" stroke-linejoin="miter"/>
<path d="M495.60,503.00L501.30,508.70L495.60,514.40L489.90,508.70Z" stroke-width="1.5" fill="none" stroke-linejoin="miter"/>
<path d="M488.60,519.30L494.30,525.00L488.60,530.70L482.90,525.00Z" stroke-width="1.5" fill="none" stroke-linejoin="miter"/>
<path d="M483.30,525.10L489.00,530.80L483.30,536.50L477.60,530.80Z" stroke-width="1.5" fill="none" stroke-linejoin="miter"/>
<path d="M514.80,517.00L520.50,522.70L514.80,528.40L509.10,522.70Z" stroke-width="1.5" fill="none" stroke-linejoin="miter"/>
<path d="M520.30,510.60L526.00,516.30L520.30,522.00L514.60,516.30Z" stroke-width="1.5" fill="none" stroke-linejoin="miter"/>
<path d="M526.30,499.10L532.00,504.80L526.30,510.50L520.60,504.80Z" stroke-width="1.5" fill="none" stroke-linejoin="miter"/>
<path d="M502.00,527.50L507.70,533.20L502.00,538.90L496.30,533.20Z" stroke-width="1.5" fill="none" stroke-linejoin="miter"/>
<path d="M507.80,536.80L513.50,542.50L507.80,548.20L502.10,542.50Z" stroke-width="1.5" fill="none" stroke-linejoin="miter"/>
<path d="M440.30,549.00L440.30,543.60M440.30,549.00L435.16,547.33M440.30,549.00L437.13,553.37M440.30,549.00L443.47,553.37M440.30,549.00L445.44,547.33" stroke-width="1.5" fill="none"/>
<path d="M446.20,539.10L446.20,533.70M446.20,539.10L441.06,537.43M446.20,539.10L443.03,543.47M446.20,539.10L449.37,543.47M446.20,539.10L451.34,537.43" stroke-width="1.5" fill="none"/>
<path d="M458.40,535.00L458.40,529.60M458.40,535.00L453.26,533.33M458.40,535.00L455.23,539.37M458.40,535.00L461.57,539.37M458.40,535.00L463.54,533.33" stroke-width="1.5" fill="none"/>
<path d="M465.50,546.00L465.50,540.60M465.50,546.00L460.36,544.33M465.50,546.00L462.33,550.37M465.50,546.00L468.67,550.37M465.50,546.00L470.64,544.33" stroke-width="1.5" fill="none"/>
<path d="M476.90,494.70L476.90,489.30M476.90,494.70L471.76,493.03M476.90,494.70L473.73,499.07M476.90,494.70L480.07,499.07M476.90,494.70L482.04,493.03" stroke-width="1.5" fill="none"/>
<path d="M483.30,517.40L483.30,512.00M483.30,517.40L478.16,515.73M483.30,517.40L480.13,521.77M483.30,517.40L486.47,521.77M483.30,517.40L488.44,515.73" stroke-width="1.5" fill="none"/>
<path d="M489.20,518.60L489.20,513.20M489.20,518.60L484.06,516.93M489.20,518.60L486.03,522.97M489.20,518.60L492.37,522.97M489.20,518.60L494.34,516.93" stroke-width="1.5" fill="none"/>
<path d="M494.40,522.10L494.40,516.70M494.40,522.10L489.26,520.43M494.40,522.10L491.23,526.47M494.40,522.10L497.57,526.47M494.40,522.10L499.54,520.43" stroke-width="1.5" fill="none"/>
<path d="M507.30,515.10L507.30,509.70M507.30,515.10L502.16,513.43M507.30,515.10L504.13,519.47M507.30,515.10L510.47,519.47M507.30,515.10L512.44,513.43" stroke-width="1.5" fill="none"/>
<path d="M514.80,529.10L514.80,523.70M514.80,529.10L509.66,527.43M514.80,529.10L511.63,533.47M514.80,529.10L517.97,533.47M514.80,529.10L519.94,527.43" stroke-width="1.5" fill="none"/>
<path d="M525.90,532.80L525.90,527.40M525.90,532.80L520.76,531.13M525.90,532.80L522.73,537.17M525.90,532.80L529.07,537.17M525.90,532.80L531.04,531.13" stroke-width="1.5" fill="none"/>
<path d="M501.40,536.70L501.40,531.30M501.40,536.70L496.26,535.03M501.40,536.70L498.23,541.07M501.40,536.70L504.57,541.07M501.40,536.70L506.54,535.03" stroke-width="1.5" fill="none"/>
<path d="M544.60,519.60L544.60,514.20M544.60,519.60L539.46,517.93M544.60,519.60L541.43,523.97M544.60,519.60L547.77,523.97M544.60,519.60L549.74,517.93" stroke-width="1.5" fill="none"/>
<path d="M518.40,528.50L518.40,523.10M518.40,528.50L513.26,526.83M518.40,528.50L515.23,532.87M518.40,528.50L521.57,532.87M518.40,528.50L523.54,526.83" stroke-width="1.5" fill="none"/>
<path d="M433.80,534.50L439.50,540.20L433.80,545.90L428.10,540.20Z" stroke-width="1.5" fill="none" stroke-linejoin="miter"/>
<path d="M433.80,540.20L433.80,534.80M433.80,540.20L428.66,538.53M433.80,540.20L430.63,544.57M433.80,540.20L436.97,544.57M433.80,540.20L438.94,538.53" stroke-width="1.5" fill="none"/>
<path d="M454.90,532.80L460.60,538.50L454.90,544.20L449.20,538.50Z" stroke-width="1.5" fill="none" stroke-linejoin="miter"/>
<path d="M454.90,538.50L454.90,533.10M454.90,538.50L449.76,536.83M454.90,538.50L451.73,542.87M454.90,538.50L458.07,542.87M454.90,538.50L460.04,536.83" stroke-width="1.5" fill="none"/>
<path d="M470.60,536.80L476.30,542.50L470.60,548.20L464.90,542.50Z" stroke-width="1.5" fill="none" stroke-linejoin="miter"/>
<path d="M470.60,542.50L470.60,537.10M470.60,542.50L465.46,540.83M470.60,542.50L467.43,546.87M470.60,542.50L473.77,546.87M470.60,542.50L475.74,540.83" stroke-width="1.5" fill="none"/>
<path d="M550.70,513.90L556.40,519.60L550.70,525.30L545.00,519.60Z" stroke-width="1.5" fill="none" stroke-linejoin="miter"/>
<path d="M550.70,519.60L550.70,514.20M550.70,519.60L545.56,517.93M550.70,519.60L547.53,523.97M550.70,519.60L553.87,523.97M550.70,519.60L555.84,517.93" stroke-width="1.5" fill="none"/>
<path d="M532.30,536.80L538.00,542.50L532.30,548.20L526.60,542.50Z" stroke-width="1.5" fill="none" stroke-linejoin="miter"/>
<path d="M532.30,542.50L532.30,537.10M532.30,542.50L527.16,540.83M532.30,542.50L529.13,546.87M532.30,542.50L535.47,546.87M532.30,542.50L537.44,540.83" stroke-width="1.5" fill="none"/>
<rect x="72.15" y="612.00" width="202.10" height="136.80" fill="none" stroke-width="1.7" stroke-linejoin="round"/>
<line x1="84.78" y1="748.80" x2="84.78" y2="745.58" stroke-width="1.5"/>
<line x1="84.78" y1="612.00" x2="84.78" y2="615.22" stroke-width="1.5"/>
<line x1="97.41" y1="748.80" x2="97.41" y2="745.58" stroke-width="1.5"/>
<line x1="97.41" y1="612.00" x2="97.41" y2="615.22" stroke-width="1.5"/>
<line x1="110.04" y1="748.80" x2="110.04" y2="745.58" stroke-width="1.5"/>
<line x1="110.04" y1="612.00" x2="110.04" y2="615.22" stroke-width="1.5"/>
<line x1="122.68" y1="748.80" x2="122.68" y2="742.17" stroke-width="1.5"/>
<line x1="122.68" y1="612.00" x2="122.68" y2="618.63" stroke-width="1.5"/>
<line x1="135.31" y1="748.80" x2="135.31" y2="745.58" stroke-width="1.5"/>
<line x1="135.31" y1="612.00" x2="135.31" y2="615.22" stroke-width="1.5"/>
<line x1="147.94" y1="748.80" x2="147.94" y2="745.58" stroke-width="1.5"/>
<line x1="147.94" y1="612.00" x2="147.94" y2="615.22" stroke-width="1.5"/>
<line x1="160.57" y1="748.80" x2="160.57" y2="745.58" stroke-width="1.5"/>
<line x1="160.57" y1="612.00" x2="160.57" y2="615.22" stroke-width="1.5"/>
<line x1="173.20" y1="748.80" x2="173.20" y2="742.17" stroke-width="1.5"/>
<line x1="173.20" y1="612.00" x2="173.20" y2="618.63" stroke-width="1.5"/>
<line x1="185.83" y1="748.80" x2="185.83" y2="745.58" stroke-width="1.5"/>
<line x1="185.83" y1="612.00" x2="185.83" y2="615.22" stroke-width="1.5"/>
<line x1="198.46" y1="748.80" x2="198.46" y2="745.58" stroke-width="1.5"/>
<line x1="198.46" y1="612.00" x2="198.46" y2="615.22" stroke-width="1.5"/>
<line x1="211.09" y1="748.80" x2="211.09" y2="745.58" stroke-width="1.5"/>
<line x1="211.09" y1="612.00" x2="211.09" y2="615.22" stroke-width="1.5"/>
<line x1="223.72" y1="748.80" x2="223.72" y2="742.17" stroke-width="1.5"/>
<line x1="223.72" y1="612.00" x2="223.72" y2="618.63" stroke-width="1.5"/>
<line x1="236.36" y1="748.80" x2="236.36" y2="745.58" stroke-width="1.5"/>
<line x1="236.36" y1="612.00" x2="236.36" y2="615.22" stroke-width="1.5"/>
<line x1="248.99" y1="748.80" x2="248.99" y2="745.58" stroke-width="1.5"/>
<line x1="248.99" y1="612.00" x2="248.99" y2="615.22" stroke-width="1.5"/>
<line x1="261.62" y1="748.80" x2="261.62" y2="745.58" stroke-width="1.5"/>
<line x1="261.62" y1="612.00" x2="261.62" y2="615.22" stroke-width="1.5"/>
<line x1="72.15" y1="741.96" x2="76.78" y2="741.96" stroke-width="1.5"/>
<line x1="274.25" y1="741.96" x2="269.62" y2="741.96" stroke-width="1.5"/>
<line x1="72.15" y1="735.12" x2="76.78" y2="735.12" stroke-width="1.5"/>
<line x1="274.25" y1="735.12" x2="269.62" y2="735.12" stroke-width="1.5"/>
<line x1="72.15" y1="728.28" x2="76.78" y2="728.28" stroke-width="1.5"/>
<line x1="274.25" y1="728.28" x2="269.62" y2="728.28" stroke-width="1.5"/>
<line x1="72.15" y1="721.44" x2="81.72" y2="721.44" stroke-width="1.5"/>
<line x1="274.25" y1="721.44" x2="264.68" y2="721.44" stroke-width="1.5"/>
<line x1="72.15" y1="714.60" x2="76.78" y2="714.60" stroke-width="1.5"/>
<line x1="274.25" y1="714.60" x2="269.62" y2="714.60" stroke-width="1.5"/>
<line x1="72.15" y1="707.76" x2="76.78" y2="707.76" stroke-width="1.5"/>
<line x1="274.25" y1="707.76" x2="269.62" y2="707.76" stroke-width="1.5"/>
<line x1="72.15" y1="700.92" x2="76.78" y2="700.92" stroke-width="1.5"/>
<line x1="274.25" y1="700.92" x2="269.62" y2="700.92" stroke-width="1.5"/>
<line x1="72.15" y1="694.08" x2="81.72" y2="694.08" stroke-width="1.5"/>
<line x1="274.25" y1="694.08" x2="264.68" y2="694.08" stroke-width="1.5"/>
<line x1="72.15" y1="687.24" x2="76.78" y2="687.24" stroke-width="1.5"/>
<line x1="274.25" y1="687.24" x2="269.62" y2="687.24" stroke-width="1.5"/>
<line x1="72.15" y1="680.40" x2="76.78" y2="680.40" stroke-width="1.5"/>
<line x1="274.25" y1="680.40" x2="269.62" y2="680.40" stroke-width="1.5"/>
<line x1="72.15" y1="673.56" x2="76.78" y2="673.56" stroke-width="1.5"/>
<line x1="274.25" y1="673.56" x2="269.62" y2="673.56" stroke-width="1.5"/>
<line x1="72.15" y1="666.72" x2="81.72" y2="666.72" stroke-width="1.5"/>
<line x1="274.25" y1="666.72" x2="264.68" y2="666.72" stroke-width="1.5"/>
<line x1="72.15" y1="659.88" x2="76.78" y2="659.88" stroke-width="1.5"/>
<line x1="274.25" y1="659.88" x2="269.62" y2="659.88" stroke-width="1.5"/>
<line x1="72.15" y1="653.04" x2="76.78" y2="653.04" stroke-width="1.5"/>
<line x1="274.25" y1="653.04" x2="269.62" y2="653.04" stroke-width="1.5"/>
<line x1="72.15" y1="646.20" x2="76.78" y2="646.20" stroke-width="1.5"/>
<line x1="274.25" y1="646.20" x2="269.62" y2="646.20" stroke-width="1.5"/>
<line x1="72.15" y1="639.36" x2="81.72" y2="639.36" stroke-width="1.5"/>
<line x1="274.25" y1="639.36" x2="264.68" y2="639.36" stroke-width="1.5"/>
<line x1="72.15" y1="632.52" x2="76.78" y2="632.52" stroke-width="1.5"/>
<line x1="274.25" y1="632.52" x2="269.62" y2="632.52" stroke-width="1.5"/>
<line x1="72.15" y1="625.68" x2="76.78" y2="625.68" stroke-width="1.5"/>
<line x1="274.25" y1="625.68" x2="269.62" y2="625.68" stroke-width="1.5"/>
<line x1="72.15" y1="618.84" x2="76.78" y2="618.84" stroke-width="1.5"/>
<line x1="274.25" y1="618.84" x2="269.62" y2="618.84" stroke-width="1.5"/>
<text x="58.67" y="754.80" font-size="13.3">0</text>
<text x="31.26" y="728.29" font-size="13.3">2×10</text>
<text x="61.33" y="721.29" font-size="7.7">9</text>
<text x="31.26" y="700.93" font-size="13.3">4×10</text>
<text x="61.33" y="693.93" font-size="7.7">9</text>
<text x="31.26" y="673.57" font-size="13.3">6×10</text>
<text x="61.33" y="666.57" font-size="7.7">9</text>
<text x="31.26" y="646.21" font-size="13.3">8×10</text>
<text x="61.33" y="639.21" font-size="7.7">9</text>
<text x="28.38" y="618.85" font-size="13.3">1×10</text>
<text x="58.24" y="611.85" font-size="7.7">10</text>
<text x="50.78" y="766.40" font-size="13.3">−4×10</text>
<text x="88.81" y="759.40" font-size="7.7">4</text>
<text x="101.30" y="766.40" font-size="13.3">−2×10</text>
<text x="139.33" y="759.40" font-size="7.7">4</text>
<text x="169.50" y="766.40" font-size="13.3">0</text>
<text x="208.03" y="766.40" font-size="13.3">2×10</text>
<text x="238.29" y="759.40" font-size="7.7">4</text>
<text x="258.44" y="766.40" font-size="13.3">4×10</text>
<text x="288.70" y="759.40" font-size="7.7">4</text>
<text x="86.54" y="784.10" font-size="13.3">Cometocentric Distance (km)</text>
<g transform="translate(14.80,765.80) rotate(-90)">
<text x="-0.68" y="0" font-size="13.45">Column Density of NH (cm</text>
<text x="159.91" y="-7.2" font-size="8.4">−2</text>
<text x="170.19" y="0" font-size="13.45">)</text>
</g>
<text x="110.29" y="636.30" font-size="13.3">165</text>
<text x="132.20" y="630.00" font-size="7.7">o</text>
<text x="211.19" y="636.30" font-size="13.3">345</text>
<text x="233.10" y="630.00" font-size="7.7">o</text>
<polyline points="72.15,738.50 100.00,735.00 128.30,731.00 135.30,729.30 158.70,719.30 166.70,706.00 170.20,695.00 171.70,688.30" fill="none" stroke-width="1.45" stroke-linejoin="round"/>
<polyline points="174.80,678.50 178.00,684.70 185.30,703.50 192.00,708.60 200.00,712.10 209.20,715.60 218.00,718.30 230.00,720.60 274.25,727.60" fill="none" stroke-width="1.45" stroke-linejoin="round"/>
<path d="M245.50,716.10L251.20,721.80L245.50,727.50L239.80,721.80Z" stroke-width="1.5" fill="none" stroke-linejoin="miter"/>
<path d="M239.40,731.40L245.10,737.10L239.40,742.80L233.70,737.10Z" stroke-width="1.5" fill="none" stroke-linejoin="miter"/>
<path d="M127.80,713.50L133.50,719.20L127.80,724.90L122.10,719.20Z" stroke-width="1.5" fill="none" stroke-linejoin="miter"/>
<path d="M134.20,727.60L139.90,733.30L134.20,739.00L128.50,733.30Z" stroke-width="1.5" fill="none" stroke-linejoin="miter"/>
<path d="M140.00,716.30L145.70,722.00L140.00,727.70L134.30,722.00Z" stroke-width="1.5" fill="none" stroke-linejoin="miter"/>
<path d="M146.00,723.70L151.70,729.40L146.00,735.10L140.30,729.40Z" stroke-width="1.5" fill="none" stroke-linejoin="miter"/>
<path d="M152.70,715.70L158.40,721.40L152.70,727.10L147.00,721.40Z" stroke-width="1.5" fill="none" stroke-linejoin="miter"/>
<path d="M160.00,719.70L165.70,725.40L160.00,731.10L154.30,725.40Z" stroke-width="1.5" fill="none" stroke-linejoin="miter"/>
<path d="M165.30,706.50L171.00,712.20L165.30,717.90L159.60,712.20Z" stroke-width="1.5" fill="none" stroke-linejoin="miter"/>
<path d="M171.40,660.25L177.10,665.95L171.40,671.65L165.70,665.95Z" stroke-width="1.5" fill="none" stroke-linejoin="miter"/>
<path d="M177.40,683.50L183.10,689.20L177.40,694.90L171.70,689.20Z" stroke-width="1.5" fill="none" stroke-linejoin="miter"/>
<path d="M190.70,695.70L196.40,701.40L190.70,707.10L185.00,701.40Z" stroke-width="1.5" fill="none" stroke-linejoin="miter"/>
<path d="M195.30,689.70L201.00,695.40L195.30,701.10L189.60,695.40Z" stroke-width="1.5" fill="none" stroke-linejoin="miter"/>
<path d="M201.30,699.70L207.00,705.40L201.30,711.10L195.60,705.40Z" stroke-width="1.5" fill="none" stroke-linejoin="miter"/>
<path d="M209.30,702.30L215.00,708.00L209.30,713.70L203.60,708.00Z" stroke-width="1.5" fill="none" stroke-linejoin="miter"/>
<path d="M221.40,700.80L227.10,706.50L221.40,712.20L215.70,706.50Z" stroke-width="1.5" fill="none" stroke-linejoin="miter"/>
<path d="M214.70,710.30L220.40,716.00L214.70,721.70L209.00,716.00Z" stroke-width="1.5" fill="none" stroke-linejoin="miter"/>
<path d="M227.10,723.30L232.80,729.00L227.10,734.70L221.40,729.00Z" stroke-width="1.5" fill="none" stroke-linejoin="miter"/>
<path d="M245.50,724.60L245.50,719.20M245.50,724.60L240.36,722.93M245.50,724.60L242.33,728.97M245.50,724.60L248.67,728.97M245.50,724.60L250.64,722.93" stroke-width="1.5" fill="none"/>
<path d="M239.40,739.60L239.40,734.20M239.40,739.60L234.26,737.93M239.40,739.60L236.23,743.97M239.40,739.60L242.57,743.97M239.40,739.60L244.54,737.93" stroke-width="1.5" fill="none"/>
<path d="M127.80,714.70L127.80,709.30M127.80,714.70L122.66,713.03M127.80,714.70L124.63,719.07M127.80,714.70L130.97,719.07M127.80,714.70L132.94,713.03" stroke-width="1.5" fill="none"/>
<path d="M134.20,726.90L134.20,721.50M134.20,726.90L129.06,725.23M134.20,726.90L131.03,731.27M134.20,726.90L137.37,731.27M134.20,726.90L139.34,725.23" stroke-width="1.5" fill="none"/>
<path d="M140.00,712.00L140.00,706.60M140.00,712.00L134.86,710.33M140.00,712.00L136.83,716.37M140.00,712.00L143.17,716.37M140.00,712.00L145.14,710.33" stroke-width="1.5" fill="none"/>
<path d="M158.70,734.00L158.70,728.60M158.70,734.00L153.56,732.33M158.70,734.00L155.53,738.37M158.70,734.00L161.87,738.37M158.70,734.00L163.84,732.33" stroke-width="1.5" fill="none"/>
<path d="M165.30,698.20L165.30,692.80M165.30,698.20L160.16,696.53M165.30,698.20L162.13,702.57M165.30,698.20L168.47,702.57M165.30,698.20L170.44,696.53" stroke-width="1.5" fill="none"/>
<path d="M176.70,700.70L176.70,695.30M176.70,700.70L171.56,699.03M176.70,700.70L173.53,705.07M176.70,700.70L179.87,705.07M176.70,700.70L181.84,699.03" stroke-width="1.5" fill="none"/>
<path d="M202.00,698.00L202.00,692.60M202.00,698.00L196.86,696.33M202.00,698.00L198.83,702.37M202.00,698.00L205.17,702.37M202.00,698.00L207.14,696.33" stroke-width="1.5" fill="none"/>
<path d="M207.30,702.70L207.30,697.30M207.30,702.70L202.16,701.03M207.30,702.70L204.13,707.07M207.30,702.70L210.47,707.07M207.30,702.70L212.44,701.03" stroke-width="1.5" fill="none"/>
<path d="M214.70,704.70L214.70,699.30M214.70,704.70L209.56,703.03M214.70,704.70L211.53,709.07M214.70,704.70L217.87,709.07M214.70,704.70L219.84,703.03" stroke-width="1.5" fill="none"/>
<path d="M220.80,710.70L220.80,705.30M220.80,710.70L215.66,709.03M220.80,710.70L217.63,715.07M220.80,710.70L223.97,715.07M220.80,710.70L225.94,709.03" stroke-width="1.5" fill="none"/>
<path d="M190.00,716.00L190.00,710.60M190.00,716.00L184.86,714.33M190.00,716.00L186.83,720.37M190.00,716.00L193.17,720.37M190.00,716.00L195.14,714.33" stroke-width="1.5" fill="none"/>
<path d="M196.00,718.70L196.00,713.30M196.00,718.70L190.86,717.03M196.00,718.70L192.83,723.07M196.00,718.70L199.17,723.07M196.00,718.70L201.14,717.03" stroke-width="1.5" fill="none"/>
<path d="M226.80,724.20L226.80,718.80M226.80,724.20L221.66,722.53M226.80,724.20L223.63,728.57M226.80,724.20L229.97,728.57M226.80,724.20L231.94,722.53" stroke-width="1.5" fill="none"/>
<path d="M233.40,747.60L233.40,742.20M233.40,747.60L228.26,745.93M233.40,747.60L230.23,751.97M233.40,747.60L236.57,751.97M233.40,747.60L238.54,745.93" stroke-width="1.5" fill="none"/>
<path d="M146.00,719.70L151.70,725.40L146.00,731.10L140.30,725.40Z" stroke-width="1.5" fill="none" stroke-linejoin="miter"/>
<path d="M146.00,725.40L146.00,720.00M146.00,725.40L140.86,723.73M146.00,725.40L142.83,729.77M146.00,725.40L149.17,729.77M146.00,725.40L151.14,723.73" stroke-width="1.5" fill="none"/>
<path d="M153.30,719.70L159.00,725.40L153.30,731.10L147.60,725.40Z" stroke-width="1.5" fill="none" stroke-linejoin="miter"/>
<path d="M153.30,725.40L153.30,720.00M153.30,725.40L148.16,723.73M153.30,725.40L150.13,729.77M153.30,725.40L156.47,729.77M153.30,725.40L158.44,723.73" stroke-width="1.5" fill="none"/>
<path d="M183.30,695.00L189.00,700.70L183.30,706.40L177.60,700.70Z" stroke-width="1.5" fill="none" stroke-linejoin="miter"/>
<path d="M183.30,700.70L183.30,695.30M183.30,700.70L178.16,699.03M183.30,700.70L180.13,705.07M183.30,700.70L186.47,705.07M183.30,700.70L188.44,699.03" stroke-width="1.5" fill="none"/>
</g>
</svg>
</body></html>
